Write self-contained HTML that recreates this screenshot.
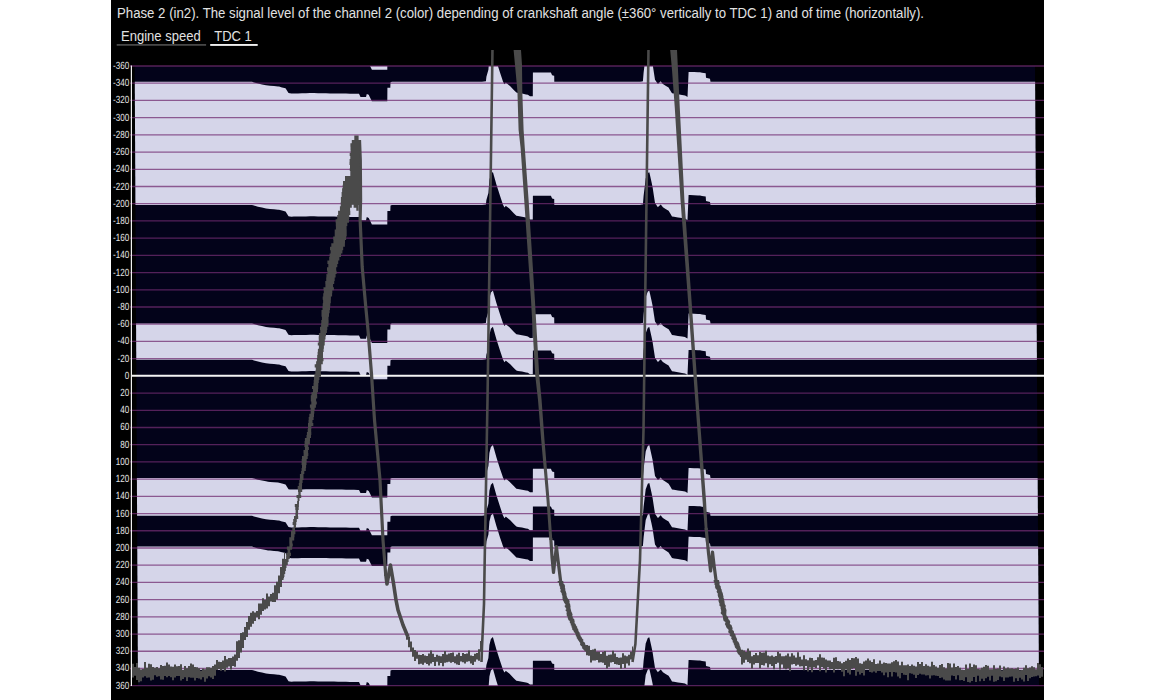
<!DOCTYPE html>
<html><head><meta charset="utf-8"><style>
html,body{margin:0;padding:0;background:#fff;}
body{width:1156px;height:700px;position:relative;overflow:hidden;font-family:"Liberation Sans",sans-serif;}
svg{position:absolute;left:0;top:0;}
</style></head><body>
<svg width="1156" height="700" viewBox="0 0 1156 700">
<defs>
<clipPath id="cp"><polygon points="134.7,66 1035,66 1039,686 138,686"/></clipPath>
<clipPath id="cc"><rect x="111" y="50" width="933" height="650"/></clipPath>
</defs>
<rect x="111" y="0" width="933" height="700" fill="#000"/>
<text x="117" y="18.3" fill="#e2e2e2" font-family="Liberation Sans" font-size="13.8" textLength="807" lengthAdjust="spacingAndGlyphs">Phase 2 (in2). The signal level of the channel 2 (color) depending of crankshaft angle (±360° vertically to TDC 1) and of time (horizontally).</text>
<text x="121" y="40.6" fill="#e2e2e2" font-family="Liberation Sans" font-size="13.8" textLength="79.7" lengthAdjust="spacingAndGlyphs">Engine speed</text>
<text x="214.3" y="40.6" fill="#e2e2e2" font-family="Liberation Sans" font-size="13.8" textLength="37.5" lengthAdjust="spacingAndGlyphs">TDC 1</text>
<rect x="116.7" y="44" width="89.4" height="1.8" fill="#474747"/>
<rect x="210.2" y="44" width="47.5" height="1.9" fill="#f0f0f0"/>
<g clip-path="url(#cp)">
<rect x="130" y="66" width="914" height="620" fill="#03031a"/>
<g fill="#d5d5e9"><path d="M130.0 81.8 L134.0 81.8 L138.0 81.8 L142.0 81.8 L146.0 81.8 L150.0 81.8 L154.0 81.8 L158.0 81.8 L162.0 81.8 L166.0 81.8 L170.0 81.8 L174.0 81.8 L178.0 81.8 L182.0 81.8 L186.0 81.8 L190.0 81.8 L194.0 81.8 L198.0 81.8 L202.0 81.8 L206.0 81.8 L210.0 81.8 L214.0 81.8 L218.0 81.8 L222.0 81.8 L226.0 81.8 L230.0 81.8 L234.0 81.8 L238.0 81.8 L242.0 81.8 L246.0 81.8 L250.0 81.8 L252.0 81.8 L254.0 82.4 L258.0 83.6 L262.0 84.4 L266.0 85.2 L268.0 85.6 L270.0 85.8 L274.0 86.1 L278.0 86.5 L279.0 86.6 L282.0 87.4 L285.5 88.3 L286.0 89.1 L288.5 93.1 L289.8 93.3 L290.0 93.3 L291.2 93.5 L294.0 93.4 L298.0 93.4 L302.0 93.3 L306.0 93.2 L310.0 93.1 L312.0 93.1 L314.0 93.1 L318.0 93.2 L322.0 93.2 L326.0 93.3 L330.0 93.4 L334.0 93.4 L338.0 93.5 L342.0 93.5 L346.0 93.6 L350.0 93.7 L354.0 93.7 L358.0 93.8 L359.0 93.8 L360.5 97.0 L362.0 97.0 L366.0 97.0 L366.8 93.9 L368.7 94.8 L370.0 97.4 L371.9 101.3 L374.0 101.3 L378.0 101.3 L382.0 101.3 L386.0 101.3 L387.3 101.3 L387.4 87.8 L390.0 87.8 L390.3 87.8 L390.5 82.3 L392.0 81.8 L394.0 81.8 L398.0 81.8 L402.0 81.8 L406.0 81.8 L410.0 81.8 L414.0 81.8 L418.0 81.8 L422.0 81.8 L426.0 81.8 L430.0 81.8 L434.0 81.8 L438.0 81.8 L442.0 81.8 L446.0 81.8 L450.0 81.8 L454.0 81.8 L458.0 81.8 L462.0 81.8 L466.0 81.8 L470.0 81.8 L474.0 81.8 L478.0 81.8 L481.9 81.8 L482.0 81.8 L485.9 81.3 L486.0 80.4 L486.4 76.8 L488.4 69.8 L489.4 56.8 L490.0 54.4 L490.9 50.8 L492.9 48.8 L494.0 52.7 L496.4 61.2 L498.0 66.3 L500.0 72.6 L502.0 78.5 L502.9 81.2 L504.4 84.3 L505.9 82.6 L506.0 82.7 L509.3 85.4 L510.0 86.1 L514.0 90.2 L516.4 92.6 L518.0 92.9 L522.0 93.6 L526.0 94.4 L527.9 94.7 L530.0 96.2 L532.8 96.2 L532.9 72.6 L534.0 72.6 L538.0 72.6 L542.0 72.6 L546.0 72.6 L550.0 72.6 L550.9 72.6 L552.1 75.3 L554.0 75.8 L554.2 75.8 L554.3 81.8 L558.0 81.8 L562.0 81.8 L566.0 81.8 L570.0 81.8 L574.0 81.8 L578.0 81.8 L582.0 81.8 L586.0 81.8 L590.0 81.8 L594.0 81.8 L598.0 81.8 L602.0 81.8 L606.0 81.8 L610.0 81.8 L614.0 81.8 L618.0 81.8 L622.0 81.8 L626.0 81.8 L630.0 81.8 L634.0 81.8 L638.0 81.8 L640.0 81.8 L642.0 81.4 L642.9 81.2 L643.6 72.8 L645.7 55.3 L646.0 54.5 L647.8 49.8 L649.3 49.0 L650.0 52.1 L651.4 58.3 L652.6 64.0 L654.0 73.2 L655.0 79.8 L657.9 84.0 L658.0 83.9 L660.7 81.3 L662.0 82.9 L662.9 84.0 L666.0 86.0 L668.6 87.6 L670.0 89.9 L672.0 93.3 L674.0 93.6 L678.0 94.3 L682.0 94.9 L685.0 95.4 L686.0 96.0 L687.5 96.9 L688.6 71.9 L690.0 71.9 L694.0 72.1 L698.0 72.2 L700.0 72.3 L702.0 72.7 L705.7 73.3 L706.0 77.8 L710.0 78.8 L710.5 81.8 L714.0 81.8 L718.0 81.8 L722.0 81.8 L726.0 81.8 L730.0 81.8 L734.0 81.8 L738.0 81.8 L742.0 81.8 L746.0 81.8 L750.0 81.8 L754.0 81.8 L758.0 81.8 L762.0 81.8 L766.0 81.8 L770.0 81.8 L774.0 81.8 L778.0 81.8 L782.0 81.8 L786.0 81.8 L790.0 81.8 L794.0 81.8 L798.0 81.8 L802.0 81.8 L806.0 81.8 L810.0 81.8 L814.0 81.8 L818.0 81.8 L822.0 81.8 L826.0 81.8 L830.0 81.8 L834.0 81.8 L838.0 81.8 L842.0 81.8 L846.0 81.8 L850.0 81.8 L854.0 81.8 L858.0 81.8 L862.0 81.8 L866.0 81.8 L870.0 81.8 L874.0 81.8 L878.0 81.8 L882.0 81.8 L886.0 81.8 L890.0 81.8 L894.0 81.8 L898.0 81.8 L902.0 81.8 L906.0 81.8 L910.0 81.8 L914.0 81.8 L918.0 81.8 L922.0 81.8 L926.0 81.8 L930.0 81.8 L934.0 81.8 L938.0 81.8 L942.0 81.8 L946.0 81.8 L950.0 81.8 L954.0 81.8 L958.0 81.8 L962.0 81.8 L966.0 81.8 L970.0 81.8 L974.0 81.8 L978.0 81.8 L982.0 81.8 L986.0 81.8 L990.0 81.8 L994.0 81.8 L998.0 81.8 L1002.0 81.8 L1006.0 81.8 L1010.0 81.8 L1014.0 81.8 L1018.0 81.8 L1022.0 81.8 L1026.0 81.8 L1030.0 81.8 L1034.0 81.8 L1038.0 81.8 L1042.0 81.8 L1045.0 81.8 L1045.0 205.0 L1042.0 205.0 L1038.0 205.0 L1034.0 205.0 L1030.0 205.0 L1026.0 205.0 L1022.0 205.0 L1018.0 205.0 L1014.0 205.0 L1010.0 205.0 L1006.0 205.0 L1002.0 205.0 L998.0 205.0 L994.0 205.0 L990.0 205.0 L986.0 205.0 L982.0 205.0 L978.0 205.0 L974.0 205.0 L970.0 205.0 L966.0 205.0 L962.0 205.0 L958.0 205.0 L954.0 205.0 L950.0 205.0 L946.0 205.0 L942.0 205.0 L938.0 205.0 L934.0 205.0 L930.0 205.0 L926.0 205.0 L922.0 205.0 L918.0 205.0 L914.0 205.0 L910.0 205.0 L906.0 205.0 L902.0 205.0 L898.0 205.0 L894.0 205.0 L890.0 205.0 L886.0 205.0 L882.0 205.0 L878.0 205.0 L874.0 205.0 L870.0 205.0 L866.0 205.0 L862.0 205.0 L858.0 205.0 L854.0 205.0 L850.0 205.0 L846.0 205.0 L842.0 205.0 L838.0 205.0 L834.0 205.0 L830.0 205.0 L826.0 205.0 L822.0 205.0 L818.0 205.0 L814.0 205.0 L810.0 205.0 L806.0 205.0 L802.0 205.0 L798.0 205.0 L794.0 205.0 L790.0 205.0 L786.0 205.0 L782.0 205.0 L778.0 205.0 L774.0 205.0 L770.0 205.0 L766.0 205.0 L762.0 205.0 L758.0 205.0 L754.0 205.0 L750.0 205.0 L746.0 205.0 L742.0 205.0 L738.0 205.0 L734.0 205.0 L730.0 205.0 L726.0 205.0 L722.0 205.0 L718.0 205.0 L714.0 205.0 L710.5 205.0 L710.0 202.0 L706.0 201.0 L705.7 196.5 L702.0 195.9 L700.0 195.5 L698.0 195.4 L694.0 195.3 L690.0 195.1 L688.6 195.1 L687.5 220.1 L686.0 219.2 L685.0 218.6 L682.0 218.1 L678.0 217.5 L674.0 216.8 L672.0 216.5 L670.0 213.1 L668.6 210.8 L666.0 209.2 L662.9 207.2 L662.0 206.1 L660.7 204.5 L658.0 207.1 L657.9 207.2 L655.0 203.0 L654.0 196.4 L652.6 187.2 L651.4 181.5 L650.0 175.3 L649.3 172.2 L647.8 173.0 L646.0 177.7 L645.7 178.5 L643.6 196.0 L642.9 204.4 L642.0 204.6 L640.0 205.0 L638.0 205.0 L634.0 205.0 L630.0 205.0 L626.0 205.0 L622.0 205.0 L618.0 205.0 L614.0 205.0 L610.0 205.0 L606.0 205.0 L602.0 205.0 L598.0 205.0 L594.0 205.0 L590.0 205.0 L586.0 205.0 L582.0 205.0 L578.0 205.0 L574.0 205.0 L570.0 205.0 L566.0 205.0 L562.0 205.0 L558.0 205.0 L554.3 205.0 L554.2 199.0 L554.0 199.0 L552.1 198.5 L550.9 195.8 L550.0 195.8 L546.0 195.8 L542.0 195.8 L538.0 195.8 L534.0 195.8 L532.9 195.8 L532.8 219.4 L530.0 219.4 L527.9 217.9 L526.0 217.6 L522.0 216.8 L518.0 216.1 L516.4 215.8 L514.0 213.4 L510.0 209.3 L509.3 208.6 L506.0 205.9 L505.9 205.8 L504.4 207.5 L502.9 204.4 L502.0 201.7 L500.0 195.8 L498.0 189.5 L496.4 184.4 L494.0 175.9 L492.9 172.0 L490.9 174.0 L490.0 177.6 L489.4 180.0 L488.4 193.0 L486.4 200.0 L486.0 203.6 L485.9 204.5 L482.0 205.0 L481.9 205.0 L478.0 205.0 L474.0 205.0 L470.0 205.0 L466.0 205.0 L462.0 205.0 L458.0 205.0 L454.0 205.0 L450.0 205.0 L446.0 205.0 L442.0 205.0 L438.0 205.0 L434.0 205.0 L430.0 205.0 L426.0 205.0 L422.0 205.0 L418.0 205.0 L414.0 205.0 L410.0 205.0 L406.0 205.0 L402.0 205.0 L398.0 205.0 L394.0 205.0 L392.0 205.0 L390.5 205.5 L390.3 211.0 L390.0 211.0 L387.4 211.0 L387.3 224.5 L386.0 224.5 L382.0 224.5 L378.0 224.5 L374.0 224.5 L371.9 224.5 L370.0 220.6 L368.7 218.0 L366.8 217.1 L366.0 220.2 L362.0 220.2 L360.5 220.2 L359.0 217.0 L358.0 217.0 L354.0 216.9 L350.0 216.9 L346.0 216.8 L342.0 216.7 L338.0 216.7 L334.0 216.6 L330.0 216.6 L326.0 216.5 L322.0 216.4 L318.0 216.4 L314.0 216.3 L312.0 216.3 L310.0 216.3 L306.0 216.4 L302.0 216.5 L298.0 216.6 L294.0 216.6 L291.2 216.7 L290.0 216.5 L289.8 216.5 L288.5 216.3 L286.0 212.3 L285.5 211.5 L282.0 210.6 L279.0 209.8 L278.0 209.7 L274.0 209.3 L270.0 209.0 L268.0 208.8 L266.0 208.4 L262.0 207.6 L258.0 206.8 L254.0 205.6 L252.0 205.0 L250.0 205.0 L246.0 205.0 L242.0 205.0 L238.0 205.0 L234.0 205.0 L230.0 205.0 L226.0 205.0 L222.0 205.0 L218.0 205.0 L214.0 205.0 L210.0 205.0 L206.0 205.0 L202.0 205.0 L198.0 205.0 L194.0 205.0 L190.0 205.0 L186.0 205.0 L182.0 205.0 L178.0 205.0 L174.0 205.0 L170.0 205.0 L166.0 205.0 L162.0 205.0 L158.0 205.0 L154.0 205.0 L150.0 205.0 L146.0 205.0 L142.0 205.0 L138.0 205.0 L134.0 205.0 L130.0 205.0Z"/><path d="M130.0 323.5 L134.0 323.5 L138.0 323.5 L142.0 323.5 L146.0 323.5 L150.0 323.5 L154.0 323.5 L158.0 323.5 L162.0 323.5 L166.0 323.5 L170.0 323.5 L174.0 323.5 L178.0 323.5 L182.0 323.5 L186.0 323.5 L190.0 323.5 L194.0 323.5 L198.0 323.5 L202.0 323.5 L206.0 323.5 L210.0 323.5 L214.0 323.5 L218.0 323.5 L222.0 323.5 L226.0 323.5 L230.0 323.5 L234.0 323.5 L238.0 323.5 L242.0 323.5 L246.0 323.5 L250.0 323.5 L252.0 323.5 L254.0 324.1 L258.0 325.3 L262.0 326.1 L266.0 326.9 L268.0 327.3 L270.0 327.5 L274.0 327.8 L278.0 328.2 L279.0 328.3 L282.0 329.1 L285.5 330.0 L286.0 330.8 L288.5 334.8 L289.8 335.0 L290.0 335.0 L291.2 335.2 L294.0 335.1 L298.0 335.1 L302.0 335.0 L306.0 334.9 L310.0 334.8 L312.0 334.8 L314.0 334.8 L318.0 334.9 L322.0 334.9 L326.0 335.0 L330.0 335.1 L334.0 335.1 L338.0 335.2 L342.0 335.2 L346.0 335.3 L350.0 335.4 L354.0 335.4 L358.0 335.5 L359.0 335.5 L360.5 338.7 L362.0 338.7 L366.0 338.7 L366.8 335.6 L368.7 336.5 L370.0 339.1 L371.9 343.0 L374.0 343.0 L378.0 343.0 L382.0 343.0 L386.0 343.0 L387.3 343.0 L387.4 329.5 L390.0 329.5 L390.3 329.5 L390.5 324.0 L392.0 323.5 L394.0 323.5 L398.0 323.5 L402.0 323.5 L406.0 323.5 L410.0 323.5 L414.0 323.5 L418.0 323.5 L422.0 323.5 L426.0 323.5 L430.0 323.5 L434.0 323.5 L438.0 323.5 L442.0 323.5 L446.0 323.5 L450.0 323.5 L454.0 323.5 L458.0 323.5 L462.0 323.5 L466.0 323.5 L470.0 323.5 L474.0 323.5 L478.0 323.5 L481.9 323.5 L482.0 323.5 L485.9 323.0 L486.0 322.1 L486.4 318.5 L488.4 311.5 L489.4 298.5 L490.0 296.1 L490.9 292.5 L492.9 290.5 L494.0 294.4 L496.4 302.9 L498.0 308.0 L500.0 314.3 L502.0 320.2 L502.9 322.9 L504.4 326.0 L505.9 324.3 L506.0 324.4 L509.3 327.1 L510.0 327.8 L514.0 331.9 L516.4 334.3 L518.0 334.6 L522.0 335.3 L526.0 336.1 L527.9 336.4 L530.0 337.9 L532.8 337.9 L532.9 314.3 L534.0 314.3 L538.0 314.3 L542.0 314.3 L546.0 314.3 L550.0 314.3 L550.9 314.3 L552.1 317.0 L554.0 317.5 L554.2 317.5 L554.3 323.5 L558.0 323.5 L562.0 323.5 L566.0 323.5 L570.0 323.5 L574.0 323.5 L578.0 323.5 L582.0 323.5 L586.0 323.5 L590.0 323.5 L594.0 323.5 L598.0 323.5 L602.0 323.5 L606.0 323.5 L610.0 323.5 L614.0 323.5 L618.0 323.5 L622.0 323.5 L626.0 323.5 L630.0 323.5 L634.0 323.5 L638.0 323.5 L640.0 323.5 L642.0 323.1 L642.9 322.9 L643.6 314.5 L645.7 297.0 L646.0 296.2 L647.8 291.5 L649.3 290.7 L650.0 293.8 L651.4 300.0 L652.6 305.7 L654.0 314.9 L655.0 321.5 L657.9 325.7 L658.0 325.6 L660.7 323.0 L662.0 324.6 L662.9 325.7 L666.0 327.7 L668.6 329.3 L670.0 331.6 L672.0 335.0 L674.0 335.3 L678.0 336.0 L682.0 336.6 L685.0 337.1 L686.0 337.7 L687.5 338.6 L688.6 313.6 L690.0 313.6 L694.0 313.8 L698.0 313.9 L700.0 314.0 L702.0 314.4 L705.7 315.0 L706.0 319.5 L710.0 320.5 L710.5 323.5 L714.0 323.5 L718.0 323.5 L722.0 323.5 L726.0 323.5 L730.0 323.5 L734.0 323.5 L738.0 323.5 L742.0 323.5 L746.0 323.5 L750.0 323.5 L754.0 323.5 L758.0 323.5 L762.0 323.5 L766.0 323.5 L770.0 323.5 L774.0 323.5 L778.0 323.5 L782.0 323.5 L786.0 323.5 L790.0 323.5 L794.0 323.5 L798.0 323.5 L802.0 323.5 L806.0 323.5 L810.0 323.5 L814.0 323.5 L818.0 323.5 L822.0 323.5 L826.0 323.5 L830.0 323.5 L834.0 323.5 L838.0 323.5 L842.0 323.5 L846.0 323.5 L850.0 323.5 L854.0 323.5 L858.0 323.5 L862.0 323.5 L866.0 323.5 L870.0 323.5 L874.0 323.5 L878.0 323.5 L882.0 323.5 L886.0 323.5 L890.0 323.5 L894.0 323.5 L898.0 323.5 L902.0 323.5 L906.0 323.5 L910.0 323.5 L914.0 323.5 L918.0 323.5 L922.0 323.5 L926.0 323.5 L930.0 323.5 L934.0 323.5 L938.0 323.5 L942.0 323.5 L946.0 323.5 L950.0 323.5 L954.0 323.5 L958.0 323.5 L962.0 323.5 L966.0 323.5 L970.0 323.5 L974.0 323.5 L978.0 323.5 L982.0 323.5 L986.0 323.5 L990.0 323.5 L994.0 323.5 L998.0 323.5 L1002.0 323.5 L1006.0 323.5 L1010.0 323.5 L1014.0 323.5 L1018.0 323.5 L1022.0 323.5 L1026.0 323.5 L1030.0 323.5 L1034.0 323.5 L1038.0 323.5 L1042.0 323.5 L1045.0 323.5 L1045.0 359.8 L1042.0 359.8 L1038.0 359.8 L1034.0 359.8 L1030.0 359.8 L1026.0 359.8 L1022.0 359.8 L1018.0 359.8 L1014.0 359.8 L1010.0 359.8 L1006.0 359.8 L1002.0 359.8 L998.0 359.8 L994.0 359.8 L990.0 359.8 L986.0 359.8 L982.0 359.8 L978.0 359.8 L974.0 359.8 L970.0 359.8 L966.0 359.8 L962.0 359.8 L958.0 359.8 L954.0 359.8 L950.0 359.8 L946.0 359.8 L942.0 359.8 L938.0 359.8 L934.0 359.8 L930.0 359.8 L926.0 359.8 L922.0 359.8 L918.0 359.8 L914.0 359.8 L910.0 359.8 L906.0 359.8 L902.0 359.8 L898.0 359.8 L894.0 359.8 L890.0 359.8 L886.0 359.8 L882.0 359.8 L878.0 359.8 L874.0 359.8 L870.0 359.8 L866.0 359.8 L862.0 359.8 L858.0 359.8 L854.0 359.8 L850.0 359.8 L846.0 359.8 L842.0 359.8 L838.0 359.8 L834.0 359.8 L830.0 359.8 L826.0 359.8 L822.0 359.8 L818.0 359.8 L814.0 359.8 L810.0 359.8 L806.0 359.8 L802.0 359.8 L798.0 359.8 L794.0 359.8 L790.0 359.8 L786.0 359.8 L782.0 359.8 L778.0 359.8 L774.0 359.8 L770.0 359.8 L766.0 359.8 L762.0 359.8 L758.0 359.8 L754.0 359.8 L750.0 359.8 L746.0 359.8 L742.0 359.8 L738.0 359.8 L734.0 359.8 L730.0 359.8 L726.0 359.8 L722.0 359.8 L718.0 359.8 L714.0 359.8 L710.5 359.8 L710.0 356.8 L706.0 355.8 L705.7 351.3 L702.0 350.7 L700.0 350.3 L698.0 350.2 L694.0 350.1 L690.0 349.9 L688.6 349.9 L687.5 374.9 L686.0 374.0 L685.0 373.4 L682.0 372.9 L678.0 372.3 L674.0 371.6 L672.0 371.3 L670.0 367.9 L668.6 365.6 L666.0 364.0 L662.9 362.0 L662.0 360.9 L660.7 359.3 L658.0 361.9 L657.9 362.0 L655.0 357.8 L654.0 351.2 L652.6 342.0 L651.4 336.3 L650.0 330.1 L649.3 327.0 L647.8 327.8 L646.0 332.5 L645.7 333.3 L643.6 350.8 L642.9 359.2 L642.0 359.4 L640.0 359.8 L638.0 359.8 L634.0 359.8 L630.0 359.8 L626.0 359.8 L622.0 359.8 L618.0 359.8 L614.0 359.8 L610.0 359.8 L606.0 359.8 L602.0 359.8 L598.0 359.8 L594.0 359.8 L590.0 359.8 L586.0 359.8 L582.0 359.8 L578.0 359.8 L574.0 359.8 L570.0 359.8 L566.0 359.8 L562.0 359.8 L558.0 359.8 L554.3 359.8 L554.2 353.8 L554.0 353.8 L552.1 353.3 L550.9 350.6 L550.0 350.6 L546.0 350.6 L542.0 350.6 L538.0 350.6 L534.0 350.6 L532.9 350.6 L532.8 374.2 L530.0 374.2 L527.9 372.7 L526.0 372.4 L522.0 371.6 L518.0 370.9 L516.4 370.6 L514.0 368.2 L510.0 364.1 L509.3 363.4 L506.0 360.7 L505.9 360.6 L504.4 362.3 L502.9 359.2 L502.0 356.5 L500.0 350.6 L498.0 344.3 L496.4 339.2 L494.0 330.7 L492.9 326.8 L490.9 328.8 L490.0 332.4 L489.4 334.8 L488.4 347.8 L486.4 354.8 L486.0 358.4 L485.9 359.3 L482.0 359.8 L481.9 359.8 L478.0 359.8 L474.0 359.8 L470.0 359.8 L466.0 359.8 L462.0 359.8 L458.0 359.8 L454.0 359.8 L450.0 359.8 L446.0 359.8 L442.0 359.8 L438.0 359.8 L434.0 359.8 L430.0 359.8 L426.0 359.8 L422.0 359.8 L418.0 359.8 L414.0 359.8 L410.0 359.8 L406.0 359.8 L402.0 359.8 L398.0 359.8 L394.0 359.8 L392.0 359.8 L390.5 360.3 L390.3 365.8 L390.0 365.8 L387.4 365.8 L387.3 379.3 L386.0 379.3 L382.0 379.3 L378.0 379.3 L374.0 379.3 L371.9 379.3 L370.0 375.4 L368.7 372.8 L366.8 371.9 L366.0 375.0 L362.0 375.0 L360.5 375.0 L359.0 371.8 L358.0 371.8 L354.0 371.7 L350.0 371.7 L346.0 371.6 L342.0 371.5 L338.0 371.5 L334.0 371.4 L330.0 371.4 L326.0 371.3 L322.0 371.2 L318.0 371.2 L314.0 371.1 L312.0 371.1 L310.0 371.1 L306.0 371.2 L302.0 371.3 L298.0 371.4 L294.0 371.4 L291.2 371.5 L290.0 371.3 L289.8 371.3 L288.5 371.1 L286.0 367.1 L285.5 366.3 L282.0 365.4 L279.0 364.6 L278.0 364.5 L274.0 364.1 L270.0 363.8 L268.0 363.6 L266.0 363.2 L262.0 362.4 L258.0 361.6 L254.0 360.4 L252.0 359.8 L250.0 359.8 L246.0 359.8 L242.0 359.8 L238.0 359.8 L234.0 359.8 L230.0 359.8 L226.0 359.8 L222.0 359.8 L218.0 359.8 L214.0 359.8 L210.0 359.8 L206.0 359.8 L202.0 359.8 L198.0 359.8 L194.0 359.8 L190.0 359.8 L186.0 359.8 L182.0 359.8 L178.0 359.8 L174.0 359.8 L170.0 359.8 L166.0 359.8 L162.0 359.8 L158.0 359.8 L154.0 359.8 L150.0 359.8 L146.0 359.8 L142.0 359.8 L138.0 359.8 L134.0 359.8 L130.0 359.8Z"/><path d="M130.0 477.9 L134.0 477.9 L138.0 477.9 L142.0 477.9 L146.0 477.9 L150.0 477.9 L154.0 477.9 L158.0 477.9 L162.0 477.9 L166.0 477.9 L170.0 477.9 L174.0 477.9 L178.0 477.9 L182.0 477.9 L186.0 477.9 L190.0 477.9 L194.0 477.9 L198.0 477.9 L202.0 477.9 L206.0 477.9 L210.0 477.9 L214.0 477.9 L218.0 477.9 L222.0 477.9 L226.0 477.9 L230.0 477.9 L234.0 477.9 L238.0 477.9 L242.0 477.9 L246.0 477.9 L250.0 477.9 L252.0 477.9 L254.0 478.5 L258.0 479.7 L262.0 480.5 L266.0 481.3 L268.0 481.7 L270.0 481.9 L274.0 482.2 L278.0 482.6 L279.0 482.7 L282.0 483.5 L285.5 484.4 L286.0 485.2 L288.5 489.2 L289.8 489.4 L290.0 489.4 L291.2 489.6 L294.0 489.5 L298.0 489.5 L302.0 489.4 L306.0 489.3 L310.0 489.2 L312.0 489.2 L314.0 489.2 L318.0 489.3 L322.0 489.3 L326.0 489.4 L330.0 489.5 L334.0 489.5 L338.0 489.6 L342.0 489.6 L346.0 489.7 L350.0 489.8 L354.0 489.8 L358.0 489.9 L359.0 489.9 L360.5 493.1 L362.0 493.1 L366.0 493.1 L366.8 490.0 L368.7 490.9 L370.0 493.5 L371.9 497.4 L374.0 497.4 L378.0 497.4 L382.0 497.4 L386.0 497.4 L387.3 497.4 L387.4 483.9 L390.0 483.9 L390.3 483.9 L390.5 478.4 L392.0 477.9 L394.0 477.9 L398.0 477.9 L402.0 477.9 L406.0 477.9 L410.0 477.9 L414.0 477.9 L418.0 477.9 L422.0 477.9 L426.0 477.9 L430.0 477.9 L434.0 477.9 L438.0 477.9 L442.0 477.9 L446.0 477.9 L450.0 477.9 L454.0 477.9 L458.0 477.9 L462.0 477.9 L466.0 477.9 L470.0 477.9 L474.0 477.9 L478.0 477.9 L481.9 477.9 L482.0 477.9 L485.9 477.4 L486.0 476.5 L486.4 472.9 L488.4 465.9 L489.4 452.9 L490.0 450.5 L490.9 446.9 L492.9 444.9 L494.0 448.8 L496.4 457.3 L498.0 462.4 L500.0 468.7 L502.0 474.6 L502.9 477.3 L504.4 480.4 L505.9 478.7 L506.0 478.8 L509.3 481.5 L510.0 482.2 L514.0 486.3 L516.4 488.7 L518.0 489.0 L522.0 489.7 L526.0 490.5 L527.9 490.8 L530.0 492.3 L532.8 492.3 L532.9 468.7 L534.0 468.7 L538.0 468.7 L542.0 468.7 L546.0 468.7 L550.0 468.7 L550.9 468.7 L552.1 471.4 L554.0 471.9 L554.2 471.9 L554.3 477.9 L558.0 477.9 L562.0 477.9 L566.0 477.9 L570.0 477.9 L574.0 477.9 L578.0 477.9 L582.0 477.9 L586.0 477.9 L590.0 477.9 L594.0 477.9 L598.0 477.9 L602.0 477.9 L606.0 477.9 L610.0 477.9 L614.0 477.9 L618.0 477.9 L622.0 477.9 L626.0 477.9 L630.0 477.9 L634.0 477.9 L638.0 477.9 L640.0 477.9 L642.0 477.5 L642.9 477.3 L643.6 468.9 L645.7 451.4 L646.0 450.6 L647.8 445.9 L649.3 445.1 L650.0 448.2 L651.4 454.4 L652.6 460.1 L654.0 469.3 L655.0 475.9 L657.9 480.1 L658.0 480.0 L660.7 477.4 L662.0 479.0 L662.9 480.1 L666.0 482.1 L668.6 483.7 L670.0 486.0 L672.0 489.4 L674.0 489.7 L678.0 490.4 L682.0 491.0 L685.0 491.5 L686.0 492.1 L687.5 493.0 L688.6 468.0 L690.0 468.0 L694.0 468.2 L698.0 468.3 L700.0 468.4 L702.0 468.8 L705.7 469.4 L706.0 473.9 L710.0 474.9 L710.5 477.9 L714.0 477.9 L718.0 477.9 L722.0 477.9 L726.0 477.9 L730.0 477.9 L734.0 477.9 L738.0 477.9 L742.0 477.9 L746.0 477.9 L750.0 477.9 L754.0 477.9 L758.0 477.9 L762.0 477.9 L766.0 477.9 L770.0 477.9 L774.0 477.9 L778.0 477.9 L782.0 477.9 L786.0 477.9 L790.0 477.9 L794.0 477.9 L798.0 477.9 L802.0 477.9 L806.0 477.9 L810.0 477.9 L814.0 477.9 L818.0 477.9 L822.0 477.9 L826.0 477.9 L830.0 477.9 L834.0 477.9 L838.0 477.9 L842.0 477.9 L846.0 477.9 L850.0 477.9 L854.0 477.9 L858.0 477.9 L862.0 477.9 L866.0 477.9 L870.0 477.9 L874.0 477.9 L878.0 477.9 L882.0 477.9 L886.0 477.9 L890.0 477.9 L894.0 477.9 L898.0 477.9 L902.0 477.9 L906.0 477.9 L910.0 477.9 L914.0 477.9 L918.0 477.9 L922.0 477.9 L926.0 477.9 L930.0 477.9 L934.0 477.9 L938.0 477.9 L942.0 477.9 L946.0 477.9 L950.0 477.9 L954.0 477.9 L958.0 477.9 L962.0 477.9 L966.0 477.9 L970.0 477.9 L974.0 477.9 L978.0 477.9 L982.0 477.9 L986.0 477.9 L990.0 477.9 L994.0 477.9 L998.0 477.9 L1002.0 477.9 L1006.0 477.9 L1010.0 477.9 L1014.0 477.9 L1018.0 477.9 L1022.0 477.9 L1026.0 477.9 L1030.0 477.9 L1034.0 477.9 L1038.0 477.9 L1042.0 477.9 L1045.0 477.9 L1045.0 515.8 L1042.0 515.8 L1038.0 515.8 L1034.0 515.8 L1030.0 515.8 L1026.0 515.8 L1022.0 515.8 L1018.0 515.8 L1014.0 515.8 L1010.0 515.8 L1006.0 515.8 L1002.0 515.8 L998.0 515.8 L994.0 515.8 L990.0 515.8 L986.0 515.8 L982.0 515.8 L978.0 515.8 L974.0 515.8 L970.0 515.8 L966.0 515.8 L962.0 515.8 L958.0 515.8 L954.0 515.8 L950.0 515.8 L946.0 515.8 L942.0 515.8 L938.0 515.8 L934.0 515.8 L930.0 515.8 L926.0 515.8 L922.0 515.8 L918.0 515.8 L914.0 515.8 L910.0 515.8 L906.0 515.8 L902.0 515.8 L898.0 515.8 L894.0 515.8 L890.0 515.8 L886.0 515.8 L882.0 515.8 L878.0 515.8 L874.0 515.8 L870.0 515.8 L866.0 515.8 L862.0 515.8 L858.0 515.8 L854.0 515.8 L850.0 515.8 L846.0 515.8 L842.0 515.8 L838.0 515.8 L834.0 515.8 L830.0 515.8 L826.0 515.8 L822.0 515.8 L818.0 515.8 L814.0 515.8 L810.0 515.8 L806.0 515.8 L802.0 515.8 L798.0 515.8 L794.0 515.8 L790.0 515.8 L786.0 515.8 L782.0 515.8 L778.0 515.8 L774.0 515.8 L770.0 515.8 L766.0 515.8 L762.0 515.8 L758.0 515.8 L754.0 515.8 L750.0 515.8 L746.0 515.8 L742.0 515.8 L738.0 515.8 L734.0 515.8 L730.0 515.8 L726.0 515.8 L722.0 515.8 L718.0 515.8 L714.0 515.8 L710.5 515.8 L710.0 512.8 L706.0 511.8 L705.7 507.3 L702.0 506.7 L700.0 506.3 L698.0 506.2 L694.0 506.1 L690.0 505.9 L688.6 505.9 L687.5 530.9 L686.0 530.0 L685.0 529.4 L682.0 528.9 L678.0 528.3 L674.0 527.6 L672.0 527.3 L670.0 523.9 L668.6 521.6 L666.0 520.0 L662.9 518.0 L662.0 516.9 L660.7 515.3 L658.0 517.9 L657.9 518.0 L655.0 513.8 L654.0 507.2 L652.6 498.0 L651.4 492.3 L650.0 486.1 L649.3 483.0 L647.8 483.8 L646.0 488.5 L645.7 489.3 L643.6 506.8 L642.9 515.2 L642.0 515.4 L640.0 515.8 L638.0 515.8 L634.0 515.8 L630.0 515.8 L626.0 515.8 L622.0 515.8 L618.0 515.8 L614.0 515.8 L610.0 515.8 L606.0 515.8 L602.0 515.8 L598.0 515.8 L594.0 515.8 L590.0 515.8 L586.0 515.8 L582.0 515.8 L578.0 515.8 L574.0 515.8 L570.0 515.8 L566.0 515.8 L562.0 515.8 L558.0 515.8 L554.3 515.8 L554.2 509.8 L554.0 509.8 L552.1 509.3 L550.9 506.6 L550.0 506.6 L546.0 506.6 L542.0 506.6 L538.0 506.6 L534.0 506.6 L532.9 506.6 L532.8 530.2 L530.0 530.2 L527.9 528.7 L526.0 528.4 L522.0 527.6 L518.0 526.9 L516.4 526.6 L514.0 524.2 L510.0 520.1 L509.3 519.4 L506.0 516.7 L505.9 516.6 L504.4 518.3 L502.9 515.2 L502.0 512.5 L500.0 506.6 L498.0 500.3 L496.4 495.2 L494.0 486.7 L492.9 482.8 L490.9 484.8 L490.0 488.4 L489.4 490.8 L488.4 503.8 L486.4 510.8 L486.0 514.4 L485.9 515.3 L482.0 515.8 L481.9 515.8 L478.0 515.8 L474.0 515.8 L470.0 515.8 L466.0 515.8 L462.0 515.8 L458.0 515.8 L454.0 515.8 L450.0 515.8 L446.0 515.8 L442.0 515.8 L438.0 515.8 L434.0 515.8 L430.0 515.8 L426.0 515.8 L422.0 515.8 L418.0 515.8 L414.0 515.8 L410.0 515.8 L406.0 515.8 L402.0 515.8 L398.0 515.8 L394.0 515.8 L392.0 515.8 L390.5 516.3 L390.3 521.8 L390.0 521.8 L387.4 521.8 L387.3 535.3 L386.0 535.3 L382.0 535.3 L378.0 535.3 L374.0 535.3 L371.9 535.3 L370.0 531.4 L368.7 528.8 L366.8 527.9 L366.0 531.0 L362.0 531.0 L360.5 531.0 L359.0 527.8 L358.0 527.8 L354.0 527.7 L350.0 527.7 L346.0 527.6 L342.0 527.5 L338.0 527.5 L334.0 527.4 L330.0 527.4 L326.0 527.3 L322.0 527.2 L318.0 527.2 L314.0 527.1 L312.0 527.1 L310.0 527.1 L306.0 527.2 L302.0 527.3 L298.0 527.4 L294.0 527.4 L291.2 527.5 L290.0 527.3 L289.8 527.3 L288.5 527.1 L286.0 523.1 L285.5 522.3 L282.0 521.4 L279.0 520.6 L278.0 520.5 L274.0 520.1 L270.0 519.8 L268.0 519.6 L266.0 519.2 L262.0 518.4 L258.0 517.6 L254.0 516.4 L252.0 515.8 L250.0 515.8 L246.0 515.8 L242.0 515.8 L238.0 515.8 L234.0 515.8 L230.0 515.8 L226.0 515.8 L222.0 515.8 L218.0 515.8 L214.0 515.8 L210.0 515.8 L206.0 515.8 L202.0 515.8 L198.0 515.8 L194.0 515.8 L190.0 515.8 L186.0 515.8 L182.0 515.8 L178.0 515.8 L174.0 515.8 L170.0 515.8 L166.0 515.8 L162.0 515.8 L158.0 515.8 L154.0 515.8 L150.0 515.8 L146.0 515.8 L142.0 515.8 L138.0 515.8 L134.0 515.8 L130.0 515.8Z"/><path d="M130.0 546.6 L134.0 546.6 L138.0 546.6 L142.0 546.6 L146.0 546.6 L150.0 546.6 L154.0 546.6 L158.0 546.6 L162.0 546.6 L166.0 546.6 L170.0 546.6 L174.0 546.6 L178.0 546.6 L182.0 546.6 L186.0 546.6 L190.0 546.6 L194.0 546.6 L198.0 546.6 L202.0 546.6 L206.0 546.6 L210.0 546.6 L214.0 546.6 L218.0 546.6 L222.0 546.6 L226.0 546.6 L230.0 546.6 L234.0 546.6 L238.0 546.6 L242.0 546.6 L246.0 546.6 L250.0 546.6 L252.0 546.6 L254.0 547.2 L258.0 548.4 L262.0 549.2 L266.0 550.0 L268.0 550.4 L270.0 550.6 L274.0 550.9 L278.0 551.3 L279.0 551.4 L282.0 552.2 L285.5 553.1 L286.0 553.9 L288.5 557.9 L289.8 558.1 L290.0 558.1 L291.2 558.3 L294.0 558.2 L298.0 558.2 L302.0 558.1 L306.0 558.0 L310.0 557.9 L312.0 557.9 L314.0 557.9 L318.0 558.0 L322.0 558.0 L326.0 558.1 L330.0 558.2 L334.0 558.2 L338.0 558.3 L342.0 558.3 L346.0 558.4 L350.0 558.5 L354.0 558.5 L358.0 558.6 L359.0 558.6 L360.5 561.8 L362.0 561.8 L366.0 561.8 L366.8 558.7 L368.7 559.6 L370.0 562.2 L371.9 566.1 L374.0 566.1 L378.0 566.1 L382.0 566.1 L386.0 566.1 L387.3 566.1 L387.4 552.6 L390.0 552.6 L390.3 552.6 L390.5 547.1 L392.0 546.6 L394.0 546.6 L398.0 546.6 L402.0 546.6 L406.0 546.6 L410.0 546.6 L414.0 546.6 L418.0 546.6 L422.0 546.6 L426.0 546.6 L430.0 546.6 L434.0 546.6 L438.0 546.6 L442.0 546.6 L446.0 546.6 L450.0 546.6 L454.0 546.6 L458.0 546.6 L462.0 546.6 L466.0 546.6 L470.0 546.6 L474.0 546.6 L478.0 546.6 L481.9 546.6 L482.0 546.6 L485.9 546.1 L486.0 545.2 L486.4 541.6 L488.4 534.6 L489.4 521.6 L490.0 519.2 L490.9 515.6 L492.9 513.6 L494.0 517.5 L496.4 526.0 L498.0 531.1 L500.0 537.4 L502.0 543.3 L502.9 546.0 L504.4 549.1 L505.9 547.4 L506.0 547.5 L509.3 550.2 L510.0 550.9 L514.0 555.0 L516.4 557.4 L518.0 557.7 L522.0 558.4 L526.0 559.2 L527.9 559.5 L530.0 561.0 L532.8 561.0 L532.9 537.4 L534.0 537.4 L538.0 537.4 L542.0 537.4 L546.0 537.4 L550.0 537.4 L550.9 537.4 L552.1 540.1 L554.0 540.6 L554.2 540.6 L554.3 546.6 L558.0 546.6 L562.0 546.6 L566.0 546.6 L570.0 546.6 L574.0 546.6 L578.0 546.6 L582.0 546.6 L586.0 546.6 L590.0 546.6 L594.0 546.6 L598.0 546.6 L602.0 546.6 L606.0 546.6 L610.0 546.6 L614.0 546.6 L618.0 546.6 L622.0 546.6 L626.0 546.6 L630.0 546.6 L634.0 546.6 L638.0 546.6 L640.0 546.6 L642.0 546.2 L642.9 546.0 L643.6 537.6 L645.7 520.1 L646.0 519.3 L647.8 514.6 L649.3 513.8 L650.0 516.9 L651.4 523.1 L652.6 528.8 L654.0 538.0 L655.0 544.6 L657.9 548.8 L658.0 548.7 L660.7 546.1 L662.0 547.7 L662.9 548.8 L666.0 550.8 L668.6 552.4 L670.0 554.7 L672.0 558.1 L674.0 558.4 L678.0 559.1 L682.0 559.7 L685.0 560.2 L686.0 560.8 L687.5 561.7 L688.6 536.7 L690.0 536.7 L694.0 536.9 L698.0 537.0 L700.0 537.1 L702.0 537.5 L705.7 538.1 L706.0 542.6 L710.0 543.6 L710.5 546.6 L714.0 546.6 L718.0 546.6 L722.0 546.6 L726.0 546.6 L730.0 546.6 L734.0 546.6 L738.0 546.6 L742.0 546.6 L746.0 546.6 L750.0 546.6 L754.0 546.6 L758.0 546.6 L762.0 546.6 L766.0 546.6 L770.0 546.6 L774.0 546.6 L778.0 546.6 L782.0 546.6 L786.0 546.6 L790.0 546.6 L794.0 546.6 L798.0 546.6 L802.0 546.6 L806.0 546.6 L810.0 546.6 L814.0 546.6 L818.0 546.6 L822.0 546.6 L826.0 546.6 L830.0 546.6 L834.0 546.6 L838.0 546.6 L842.0 546.6 L846.0 546.6 L850.0 546.6 L854.0 546.6 L858.0 546.6 L862.0 546.6 L866.0 546.6 L870.0 546.6 L874.0 546.6 L878.0 546.6 L882.0 546.6 L886.0 546.6 L890.0 546.6 L894.0 546.6 L898.0 546.6 L902.0 546.6 L906.0 546.6 L910.0 546.6 L914.0 546.6 L918.0 546.6 L922.0 546.6 L926.0 546.6 L930.0 546.6 L934.0 546.6 L938.0 546.6 L942.0 546.6 L946.0 546.6 L950.0 546.6 L954.0 546.6 L958.0 546.6 L962.0 546.6 L966.0 546.6 L970.0 546.6 L974.0 546.6 L978.0 546.6 L982.0 546.6 L986.0 546.6 L990.0 546.6 L994.0 546.6 L998.0 546.6 L1002.0 546.6 L1006.0 546.6 L1010.0 546.6 L1014.0 546.6 L1018.0 546.6 L1022.0 546.6 L1026.0 546.6 L1030.0 546.6 L1034.0 546.6 L1038.0 546.6 L1042.0 546.6 L1045.0 546.6 L1045.0 670.0 L1042.0 670.0 L1038.0 670.0 L1034.0 670.0 L1030.0 670.0 L1026.0 670.0 L1022.0 670.0 L1018.0 670.0 L1014.0 670.0 L1010.0 670.0 L1006.0 670.0 L1002.0 670.0 L998.0 670.0 L994.0 670.0 L990.0 670.0 L986.0 670.0 L982.0 670.0 L978.0 670.0 L974.0 670.0 L970.0 670.0 L966.0 670.0 L962.0 670.0 L958.0 670.0 L954.0 670.0 L950.0 670.0 L946.0 670.0 L942.0 670.0 L938.0 670.0 L934.0 670.0 L930.0 670.0 L926.0 670.0 L922.0 670.0 L918.0 670.0 L914.0 670.0 L910.0 670.0 L906.0 670.0 L902.0 670.0 L898.0 670.0 L894.0 670.0 L890.0 670.0 L886.0 670.0 L882.0 670.0 L878.0 670.0 L874.0 670.0 L870.0 670.0 L866.0 670.0 L862.0 670.0 L858.0 670.0 L854.0 670.0 L850.0 670.0 L846.0 670.0 L842.0 670.0 L838.0 670.0 L834.0 670.0 L830.0 670.0 L826.0 670.0 L822.0 670.0 L818.0 670.0 L814.0 670.0 L810.0 670.0 L806.0 670.0 L802.0 670.0 L798.0 670.0 L794.0 670.0 L790.0 670.0 L786.0 670.0 L782.0 670.0 L778.0 670.0 L774.0 670.0 L770.0 670.0 L766.0 670.0 L762.0 670.0 L758.0 670.0 L754.0 670.0 L750.0 670.0 L746.0 670.0 L742.0 670.0 L738.0 670.0 L734.0 670.0 L730.0 670.0 L726.0 670.0 L722.0 670.0 L718.0 670.0 L714.0 670.0 L710.5 670.0 L710.0 667.0 L706.0 666.0 L705.7 661.5 L702.0 660.9 L700.0 660.5 L698.0 660.4 L694.0 660.3 L690.0 660.1 L688.6 660.1 L687.5 685.1 L686.0 684.2 L685.0 683.6 L682.0 683.1 L678.0 682.5 L674.0 681.8 L672.0 681.5 L670.0 678.1 L668.6 675.8 L666.0 674.2 L662.9 672.2 L662.0 671.1 L660.7 669.5 L658.0 672.1 L657.9 672.2 L655.0 668.0 L654.0 661.4 L652.6 652.2 L651.4 646.5 L650.0 640.3 L649.3 637.2 L647.8 638.0 L646.0 642.7 L645.7 643.5 L643.6 661.0 L642.9 669.4 L642.0 669.6 L640.0 670.0 L638.0 670.0 L634.0 670.0 L630.0 670.0 L626.0 670.0 L622.0 670.0 L618.0 670.0 L614.0 670.0 L610.0 670.0 L606.0 670.0 L602.0 670.0 L598.0 670.0 L594.0 670.0 L590.0 670.0 L586.0 670.0 L582.0 670.0 L578.0 670.0 L574.0 670.0 L570.0 670.0 L566.0 670.0 L562.0 670.0 L558.0 670.0 L554.3 670.0 L554.2 664.0 L554.0 664.0 L552.1 663.5 L550.9 660.8 L550.0 660.8 L546.0 660.8 L542.0 660.8 L538.0 660.8 L534.0 660.8 L532.9 660.8 L532.8 684.4 L530.0 684.4 L527.9 682.9 L526.0 682.6 L522.0 681.8 L518.0 681.1 L516.4 680.8 L514.0 678.4 L510.0 674.3 L509.3 673.6 L506.0 670.9 L505.9 670.8 L504.4 672.5 L502.9 669.4 L502.0 666.7 L500.0 660.8 L498.0 654.5 L496.4 649.4 L494.0 640.9 L492.9 637.0 L490.9 639.0 L490.0 642.6 L489.4 645.0 L488.4 658.0 L486.4 665.0 L486.0 668.6 L485.9 669.5 L482.0 670.0 L481.9 670.0 L478.0 670.0 L474.0 670.0 L470.0 670.0 L466.0 670.0 L462.0 670.0 L458.0 670.0 L454.0 670.0 L450.0 670.0 L446.0 670.0 L442.0 670.0 L438.0 670.0 L434.0 670.0 L430.0 670.0 L426.0 670.0 L422.0 670.0 L418.0 670.0 L414.0 670.0 L410.0 670.0 L406.0 670.0 L402.0 670.0 L398.0 670.0 L394.0 670.0 L392.0 670.0 L390.5 670.5 L390.3 676.0 L390.0 676.0 L387.4 676.0 L387.3 689.5 L386.0 689.5 L382.0 689.5 L378.0 689.5 L374.0 689.5 L371.9 689.5 L370.0 685.6 L368.7 683.0 L366.8 682.1 L366.0 685.2 L362.0 685.2 L360.5 685.2 L359.0 682.0 L358.0 682.0 L354.0 681.9 L350.0 681.9 L346.0 681.8 L342.0 681.7 L338.0 681.7 L334.0 681.6 L330.0 681.6 L326.0 681.5 L322.0 681.4 L318.0 681.4 L314.0 681.3 L312.0 681.3 L310.0 681.3 L306.0 681.4 L302.0 681.5 L298.0 681.6 L294.0 681.6 L291.2 681.7 L290.0 681.5 L289.8 681.5 L288.5 681.3 L286.0 677.3 L285.5 676.5 L282.0 675.6 L279.0 674.8 L278.0 674.7 L274.0 674.3 L270.0 674.0 L268.0 673.8 L266.0 673.4 L262.0 672.6 L258.0 671.8 L254.0 670.6 L252.0 670.0 L250.0 670.0 L246.0 670.0 L242.0 670.0 L238.0 670.0 L234.0 670.0 L230.0 670.0 L226.0 670.0 L222.0 670.0 L218.0 670.0 L214.0 670.0 L210.0 670.0 L206.0 670.0 L202.0 670.0 L198.0 670.0 L194.0 670.0 L190.0 670.0 L186.0 670.0 L182.0 670.0 L178.0 670.0 L174.0 670.0 L170.0 670.0 L166.0 670.0 L162.0 670.0 L158.0 670.0 L154.0 670.0 L150.0 670.0 L146.0 670.0 L142.0 670.0 L138.0 670.0 L134.0 670.0 L130.0 670.0Z"/><path d="M130.0 701.5 L134.0 701.5 L138.0 701.5 L142.0 701.5 L146.0 701.5 L150.0 701.5 L154.0 701.5 L158.0 701.5 L162.0 701.5 L166.0 701.5 L170.0 701.5 L174.0 701.5 L178.0 701.5 L182.0 701.5 L186.0 701.5 L190.0 701.5 L194.0 701.5 L198.0 701.5 L202.0 701.5 L206.0 701.5 L210.0 701.5 L214.0 701.5 L218.0 701.5 L222.0 701.5 L226.0 701.5 L230.0 701.5 L234.0 701.5 L238.0 701.5 L242.0 701.5 L246.0 701.5 L250.0 701.5 L252.0 701.5 L254.0 702.1 L258.0 703.3 L262.0 704.1 L266.0 704.9 L268.0 705.3 L270.0 705.5 L274.0 705.8 L278.0 706.2 L279.0 706.3 L282.0 707.1 L285.5 708.0 L286.0 708.8 L288.5 712.8 L289.8 713.0 L290.0 713.0 L291.2 713.2 L294.0 713.1 L298.0 713.1 L302.0 713.0 L306.0 712.9 L310.0 712.8 L312.0 712.8 L314.0 712.8 L318.0 712.9 L322.0 712.9 L326.0 713.0 L330.0 713.1 L334.0 713.1 L338.0 713.2 L342.0 713.2 L346.0 713.3 L350.0 713.4 L354.0 713.4 L358.0 713.5 L359.0 713.5 L360.5 716.7 L362.0 716.7 L366.0 716.7 L366.8 713.6 L368.7 714.5 L370.0 717.1 L371.9 721.0 L374.0 721.0 L378.0 721.0 L382.0 721.0 L386.0 721.0 L387.3 721.0 L387.4 707.5 L390.0 707.5 L390.3 707.5 L390.5 702.0 L392.0 701.5 L394.0 701.5 L398.0 701.5 L402.0 701.5 L406.0 701.5 L410.0 701.5 L414.0 701.5 L418.0 701.5 L422.0 701.5 L426.0 701.5 L430.0 701.5 L434.0 701.5 L438.0 701.5 L442.0 701.5 L446.0 701.5 L450.0 701.5 L454.0 701.5 L458.0 701.5 L462.0 701.5 L466.0 701.5 L470.0 701.5 L474.0 701.5 L478.0 701.5 L481.9 701.5 L482.0 701.5 L485.9 701.0 L486.0 700.1 L486.4 696.5 L488.4 689.5 L489.4 676.5 L490.0 674.1 L490.9 670.5 L492.9 668.5 L494.0 672.4 L496.4 680.9 L498.0 686.0 L500.0 692.3 L502.0 698.2 L502.9 700.9 L504.4 704.0 L505.9 702.3 L506.0 702.4 L509.3 705.1 L510.0 705.8 L514.0 709.9 L516.4 712.3 L518.0 712.6 L522.0 713.3 L526.0 714.1 L527.9 714.4 L530.0 715.9 L532.8 715.9 L532.9 692.3 L534.0 692.3 L538.0 692.3 L542.0 692.3 L546.0 692.3 L550.0 692.3 L550.9 692.3 L552.1 695.0 L554.0 695.5 L554.2 695.5 L554.3 701.5 L558.0 701.5 L562.0 701.5 L566.0 701.5 L570.0 701.5 L574.0 701.5 L578.0 701.5 L582.0 701.5 L586.0 701.5 L590.0 701.5 L594.0 701.5 L598.0 701.5 L602.0 701.5 L606.0 701.5 L610.0 701.5 L614.0 701.5 L618.0 701.5 L622.0 701.5 L626.0 701.5 L630.0 701.5 L634.0 701.5 L638.0 701.5 L640.0 701.5 L642.0 701.1 L642.9 700.9 L643.6 692.5 L645.7 675.0 L646.0 674.2 L647.8 669.5 L649.3 668.7 L650.0 671.8 L651.4 678.0 L652.6 683.7 L654.0 692.9 L655.0 699.5 L657.9 703.7 L658.0 703.6 L660.7 701.0 L662.0 702.6 L662.9 703.7 L666.0 705.7 L668.6 707.3 L670.0 709.6 L672.0 713.0 L674.0 713.3 L678.0 714.0 L682.0 714.6 L685.0 715.1 L686.0 715.7 L687.5 716.6 L688.6 691.6 L690.0 691.6 L694.0 691.8 L698.0 691.9 L700.0 692.0 L702.0 692.4 L705.7 693.0 L706.0 697.5 L710.0 698.5 L710.5 701.5 L714.0 701.5 L718.0 701.5 L722.0 701.5 L726.0 701.5 L730.0 701.5 L734.0 701.5 L738.0 701.5 L742.0 701.5 L746.0 701.5 L750.0 701.5 L754.0 701.5 L758.0 701.5 L762.0 701.5 L766.0 701.5 L770.0 701.5 L774.0 701.5 L778.0 701.5 L782.0 701.5 L786.0 701.5 L790.0 701.5 L794.0 701.5 L798.0 701.5 L802.0 701.5 L806.0 701.5 L810.0 701.5 L814.0 701.5 L818.0 701.5 L822.0 701.5 L826.0 701.5 L830.0 701.5 L834.0 701.5 L838.0 701.5 L842.0 701.5 L846.0 701.5 L850.0 701.5 L854.0 701.5 L858.0 701.5 L862.0 701.5 L866.0 701.5 L870.0 701.5 L874.0 701.5 L878.0 701.5 L882.0 701.5 L886.0 701.5 L890.0 701.5 L894.0 701.5 L898.0 701.5 L902.0 701.5 L906.0 701.5 L910.0 701.5 L914.0 701.5 L918.0 701.5 L922.0 701.5 L926.0 701.5 L930.0 701.5 L934.0 701.5 L938.0 701.5 L942.0 701.5 L946.0 701.5 L950.0 701.5 L954.0 701.5 L958.0 701.5 L962.0 701.5 L966.0 701.5 L970.0 701.5 L974.0 701.5 L978.0 701.5 L982.0 701.5 L986.0 701.5 L990.0 701.5 L994.0 701.5 L998.0 701.5 L1002.0 701.5 L1006.0 701.5 L1010.0 701.5 L1014.0 701.5 L1018.0 701.5 L1022.0 701.5 L1026.0 701.5 L1030.0 701.5 L1034.0 701.5 L1038.0 701.5 L1042.0 701.5 L1045.0 701.5 L1045.0 824.7 L1042.0 824.7 L1038.0 824.7 L1034.0 824.7 L1030.0 824.7 L1026.0 824.7 L1022.0 824.7 L1018.0 824.7 L1014.0 824.7 L1010.0 824.7 L1006.0 824.7 L1002.0 824.7 L998.0 824.7 L994.0 824.7 L990.0 824.7 L986.0 824.7 L982.0 824.7 L978.0 824.7 L974.0 824.7 L970.0 824.7 L966.0 824.7 L962.0 824.7 L958.0 824.7 L954.0 824.7 L950.0 824.7 L946.0 824.7 L942.0 824.7 L938.0 824.7 L934.0 824.7 L930.0 824.7 L926.0 824.7 L922.0 824.7 L918.0 824.7 L914.0 824.7 L910.0 824.7 L906.0 824.7 L902.0 824.7 L898.0 824.7 L894.0 824.7 L890.0 824.7 L886.0 824.7 L882.0 824.7 L878.0 824.7 L874.0 824.7 L870.0 824.7 L866.0 824.7 L862.0 824.7 L858.0 824.7 L854.0 824.7 L850.0 824.7 L846.0 824.7 L842.0 824.7 L838.0 824.7 L834.0 824.7 L830.0 824.7 L826.0 824.7 L822.0 824.7 L818.0 824.7 L814.0 824.7 L810.0 824.7 L806.0 824.7 L802.0 824.7 L798.0 824.7 L794.0 824.7 L790.0 824.7 L786.0 824.7 L782.0 824.7 L778.0 824.7 L774.0 824.7 L770.0 824.7 L766.0 824.7 L762.0 824.7 L758.0 824.7 L754.0 824.7 L750.0 824.7 L746.0 824.7 L742.0 824.7 L738.0 824.7 L734.0 824.7 L730.0 824.7 L726.0 824.7 L722.0 824.7 L718.0 824.7 L714.0 824.7 L710.5 824.7 L710.0 821.7 L706.0 820.7 L705.7 816.2 L702.0 815.6 L700.0 815.2 L698.0 815.1 L694.0 815.0 L690.0 814.8 L688.6 814.8 L687.5 839.8 L686.0 838.9 L685.0 838.3 L682.0 837.8 L678.0 837.2 L674.0 836.5 L672.0 836.2 L670.0 832.8 L668.6 830.5 L666.0 828.9 L662.9 826.9 L662.0 825.8 L660.7 824.2 L658.0 826.8 L657.9 826.9 L655.0 822.7 L654.0 816.1 L652.6 806.9 L651.4 801.2 L650.0 795.0 L649.3 791.9 L647.8 792.7 L646.0 797.4 L645.7 798.2 L643.6 815.7 L642.9 824.1 L642.0 824.3 L640.0 824.7 L638.0 824.7 L634.0 824.7 L630.0 824.7 L626.0 824.7 L622.0 824.7 L618.0 824.7 L614.0 824.7 L610.0 824.7 L606.0 824.7 L602.0 824.7 L598.0 824.7 L594.0 824.7 L590.0 824.7 L586.0 824.7 L582.0 824.7 L578.0 824.7 L574.0 824.7 L570.0 824.7 L566.0 824.7 L562.0 824.7 L558.0 824.7 L554.3 824.7 L554.2 818.7 L554.0 818.7 L552.1 818.2 L550.9 815.5 L550.0 815.5 L546.0 815.5 L542.0 815.5 L538.0 815.5 L534.0 815.5 L532.9 815.5 L532.8 839.1 L530.0 839.1 L527.9 837.6 L526.0 837.3 L522.0 836.5 L518.0 835.8 L516.4 835.5 L514.0 833.1 L510.0 829.0 L509.3 828.3 L506.0 825.6 L505.9 825.5 L504.4 827.2 L502.9 824.1 L502.0 821.4 L500.0 815.5 L498.0 809.2 L496.4 804.1 L494.0 795.6 L492.9 791.7 L490.9 793.7 L490.0 797.3 L489.4 799.7 L488.4 812.7 L486.4 819.7 L486.0 823.3 L485.9 824.2 L482.0 824.7 L481.9 824.7 L478.0 824.7 L474.0 824.7 L470.0 824.7 L466.0 824.7 L462.0 824.7 L458.0 824.7 L454.0 824.7 L450.0 824.7 L446.0 824.7 L442.0 824.7 L438.0 824.7 L434.0 824.7 L430.0 824.7 L426.0 824.7 L422.0 824.7 L418.0 824.7 L414.0 824.7 L410.0 824.7 L406.0 824.7 L402.0 824.7 L398.0 824.7 L394.0 824.7 L392.0 824.7 L390.5 825.2 L390.3 830.7 L390.0 830.7 L387.4 830.7 L387.3 844.2 L386.0 844.2 L382.0 844.2 L378.0 844.2 L374.0 844.2 L371.9 844.2 L370.0 840.3 L368.7 837.7 L366.8 836.8 L366.0 839.9 L362.0 839.9 L360.5 839.9 L359.0 836.7 L358.0 836.7 L354.0 836.6 L350.0 836.6 L346.0 836.5 L342.0 836.4 L338.0 836.4 L334.0 836.3 L330.0 836.3 L326.0 836.2 L322.0 836.1 L318.0 836.1 L314.0 836.0 L312.0 836.0 L310.0 836.0 L306.0 836.1 L302.0 836.2 L298.0 836.3 L294.0 836.3 L291.2 836.4 L290.0 836.2 L289.8 836.2 L288.5 836.0 L286.0 832.0 L285.5 831.2 L282.0 830.3 L279.0 829.5 L278.0 829.4 L274.0 829.0 L270.0 828.7 L268.0 828.5 L266.0 828.1 L262.0 827.3 L258.0 826.5 L254.0 825.3 L252.0 824.7 L250.0 824.7 L246.0 824.7 L242.0 824.7 L238.0 824.7 L234.0 824.7 L230.0 824.7 L226.0 824.7 L222.0 824.7 L218.0 824.7 L214.0 824.7 L210.0 824.7 L206.0 824.7 L202.0 824.7 L198.0 824.7 L194.0 824.7 L190.0 824.7 L186.0 824.7 L182.0 824.7 L178.0 824.7 L174.0 824.7 L170.0 824.7 L166.0 824.7 L162.0 824.7 L158.0 824.7 L154.0 824.7 L150.0 824.7 L146.0 824.7 L142.0 824.7 L138.0 824.7 L134.0 824.7 L130.0 824.7Z"/><path d="M130.0 -73.1 L134.0 -73.1 L138.0 -73.1 L142.0 -73.1 L146.0 -73.1 L150.0 -73.1 L154.0 -73.1 L158.0 -73.1 L162.0 -73.1 L166.0 -73.1 L170.0 -73.1 L174.0 -73.1 L178.0 -73.1 L182.0 -73.1 L186.0 -73.1 L190.0 -73.1 L194.0 -73.1 L198.0 -73.1 L202.0 -73.1 L206.0 -73.1 L210.0 -73.1 L214.0 -73.1 L218.0 -73.1 L222.0 -73.1 L226.0 -73.1 L230.0 -73.1 L234.0 -73.1 L238.0 -73.1 L242.0 -73.1 L246.0 -73.1 L250.0 -73.1 L252.0 -73.1 L254.0 -72.5 L258.0 -71.3 L262.0 -70.5 L266.0 -69.7 L268.0 -69.3 L270.0 -69.1 L274.0 -68.8 L278.0 -68.4 L279.0 -68.3 L282.0 -67.5 L285.5 -66.6 L286.0 -65.8 L288.5 -61.8 L289.8 -61.6 L290.0 -61.6 L291.2 -61.4 L294.0 -61.5 L298.0 -61.5 L302.0 -61.6 L306.0 -61.7 L310.0 -61.8 L312.0 -61.8 L314.0 -61.8 L318.0 -61.7 L322.0 -61.7 L326.0 -61.6 L330.0 -61.5 L334.0 -61.5 L338.0 -61.4 L342.0 -61.4 L346.0 -61.3 L350.0 -61.2 L354.0 -61.2 L358.0 -61.1 L359.0 -61.1 L360.5 -57.9 L362.0 -57.9 L366.0 -57.9 L366.8 -61.0 L368.7 -60.1 L370.0 -57.5 L371.9 -53.6 L374.0 -53.6 L378.0 -53.6 L382.0 -53.6 L386.0 -53.6 L387.3 -53.6 L387.4 -67.1 L390.0 -67.1 L390.3 -67.1 L390.5 -72.6 L392.0 -73.1 L394.0 -73.1 L398.0 -73.1 L402.0 -73.1 L406.0 -73.1 L410.0 -73.1 L414.0 -73.1 L418.0 -73.1 L422.0 -73.1 L426.0 -73.1 L430.0 -73.1 L434.0 -73.1 L438.0 -73.1 L442.0 -73.1 L446.0 -73.1 L450.0 -73.1 L454.0 -73.1 L458.0 -73.1 L462.0 -73.1 L466.0 -73.1 L470.0 -73.1 L474.0 -73.1 L478.0 -73.1 L481.9 -73.1 L482.0 -73.1 L485.9 -73.6 L486.0 -74.5 L486.4 -78.1 L488.4 -85.1 L489.4 -98.1 L490.0 -100.5 L490.9 -104.1 L492.9 -106.1 L494.0 -102.2 L496.4 -93.7 L498.0 -88.6 L500.0 -82.3 L502.0 -76.4 L502.9 -73.7 L504.4 -70.6 L505.9 -72.3 L506.0 -72.2 L509.3 -69.5 L510.0 -68.8 L514.0 -64.7 L516.4 -62.3 L518.0 -62.0 L522.0 -61.3 L526.0 -60.5 L527.9 -60.2 L530.0 -58.7 L532.8 -58.7 L532.9 -82.3 L534.0 -82.3 L538.0 -82.3 L542.0 -82.3 L546.0 -82.3 L550.0 -82.3 L550.9 -82.3 L552.1 -79.6 L554.0 -79.1 L554.2 -79.1 L554.3 -73.1 L558.0 -73.1 L562.0 -73.1 L566.0 -73.1 L570.0 -73.1 L574.0 -73.1 L578.0 -73.1 L582.0 -73.1 L586.0 -73.1 L590.0 -73.1 L594.0 -73.1 L598.0 -73.1 L602.0 -73.1 L606.0 -73.1 L610.0 -73.1 L614.0 -73.1 L618.0 -73.1 L622.0 -73.1 L626.0 -73.1 L630.0 -73.1 L634.0 -73.1 L638.0 -73.1 L640.0 -73.1 L642.0 -73.5 L642.9 -73.7 L643.6 -82.1 L645.7 -99.6 L646.0 -100.4 L647.8 -105.1 L649.3 -105.9 L650.0 -102.8 L651.4 -96.6 L652.6 -90.9 L654.0 -81.7 L655.0 -75.1 L657.9 -70.9 L658.0 -71.0 L660.7 -73.6 L662.0 -72.0 L662.9 -70.9 L666.0 -68.9 L668.6 -67.3 L670.0 -65.0 L672.0 -61.6 L674.0 -61.3 L678.0 -60.6 L682.0 -60.0 L685.0 -59.5 L686.0 -58.9 L687.5 -58.0 L688.6 -83.0 L690.0 -83.0 L694.0 -82.8 L698.0 -82.7 L700.0 -82.6 L702.0 -82.2 L705.7 -81.6 L706.0 -77.1 L710.0 -76.1 L710.5 -73.1 L714.0 -73.1 L718.0 -73.1 L722.0 -73.1 L726.0 -73.1 L730.0 -73.1 L734.0 -73.1 L738.0 -73.1 L742.0 -73.1 L746.0 -73.1 L750.0 -73.1 L754.0 -73.1 L758.0 -73.1 L762.0 -73.1 L766.0 -73.1 L770.0 -73.1 L774.0 -73.1 L778.0 -73.1 L782.0 -73.1 L786.0 -73.1 L790.0 -73.1 L794.0 -73.1 L798.0 -73.1 L802.0 -73.1 L806.0 -73.1 L810.0 -73.1 L814.0 -73.1 L818.0 -73.1 L822.0 -73.1 L826.0 -73.1 L830.0 -73.1 L834.0 -73.1 L838.0 -73.1 L842.0 -73.1 L846.0 -73.1 L850.0 -73.1 L854.0 -73.1 L858.0 -73.1 L862.0 -73.1 L866.0 -73.1 L870.0 -73.1 L874.0 -73.1 L878.0 -73.1 L882.0 -73.1 L886.0 -73.1 L890.0 -73.1 L894.0 -73.1 L898.0 -73.1 L902.0 -73.1 L906.0 -73.1 L910.0 -73.1 L914.0 -73.1 L918.0 -73.1 L922.0 -73.1 L926.0 -73.1 L930.0 -73.1 L934.0 -73.1 L938.0 -73.1 L942.0 -73.1 L946.0 -73.1 L950.0 -73.1 L954.0 -73.1 L958.0 -73.1 L962.0 -73.1 L966.0 -73.1 L970.0 -73.1 L974.0 -73.1 L978.0 -73.1 L982.0 -73.1 L986.0 -73.1 L990.0 -73.1 L994.0 -73.1 L998.0 -73.1 L1002.0 -73.1 L1006.0 -73.1 L1010.0 -73.1 L1014.0 -73.1 L1018.0 -73.1 L1022.0 -73.1 L1026.0 -73.1 L1030.0 -73.1 L1034.0 -73.1 L1038.0 -73.1 L1042.0 -73.1 L1045.0 -73.1 L1045.0 50.3 L1042.0 50.3 L1038.0 50.3 L1034.0 50.3 L1030.0 50.3 L1026.0 50.3 L1022.0 50.3 L1018.0 50.3 L1014.0 50.3 L1010.0 50.3 L1006.0 50.3 L1002.0 50.3 L998.0 50.3 L994.0 50.3 L990.0 50.3 L986.0 50.3 L982.0 50.3 L978.0 50.3 L974.0 50.3 L970.0 50.3 L966.0 50.3 L962.0 50.3 L958.0 50.3 L954.0 50.3 L950.0 50.3 L946.0 50.3 L942.0 50.3 L938.0 50.3 L934.0 50.3 L930.0 50.3 L926.0 50.3 L922.0 50.3 L918.0 50.3 L914.0 50.3 L910.0 50.3 L906.0 50.3 L902.0 50.3 L898.0 50.3 L894.0 50.3 L890.0 50.3 L886.0 50.3 L882.0 50.3 L878.0 50.3 L874.0 50.3 L870.0 50.3 L866.0 50.3 L862.0 50.3 L858.0 50.3 L854.0 50.3 L850.0 50.3 L846.0 50.3 L842.0 50.3 L838.0 50.3 L834.0 50.3 L830.0 50.3 L826.0 50.3 L822.0 50.3 L818.0 50.3 L814.0 50.3 L810.0 50.3 L806.0 50.3 L802.0 50.3 L798.0 50.3 L794.0 50.3 L790.0 50.3 L786.0 50.3 L782.0 50.3 L778.0 50.3 L774.0 50.3 L770.0 50.3 L766.0 50.3 L762.0 50.3 L758.0 50.3 L754.0 50.3 L750.0 50.3 L746.0 50.3 L742.0 50.3 L738.0 50.3 L734.0 50.3 L730.0 50.3 L726.0 50.3 L722.0 50.3 L718.0 50.3 L714.0 50.3 L710.5 50.3 L710.0 47.3 L706.0 46.3 L705.7 41.8 L702.0 41.2 L700.0 40.8 L698.0 40.7 L694.0 40.6 L690.0 40.4 L688.6 40.4 L687.5 65.4 L686.0 64.5 L685.0 63.9 L682.0 63.4 L678.0 62.8 L674.0 62.1 L672.0 61.8 L670.0 58.4 L668.6 56.1 L666.0 54.5 L662.9 52.5 L662.0 51.4 L660.7 49.8 L658.0 52.4 L657.9 52.5 L655.0 48.3 L654.0 41.7 L652.6 32.5 L651.4 26.8 L650.0 20.6 L649.3 17.5 L647.8 18.3 L646.0 23.0 L645.7 23.8 L643.6 41.3 L642.9 49.7 L642.0 49.9 L640.0 50.3 L638.0 50.3 L634.0 50.3 L630.0 50.3 L626.0 50.3 L622.0 50.3 L618.0 50.3 L614.0 50.3 L610.0 50.3 L606.0 50.3 L602.0 50.3 L598.0 50.3 L594.0 50.3 L590.0 50.3 L586.0 50.3 L582.0 50.3 L578.0 50.3 L574.0 50.3 L570.0 50.3 L566.0 50.3 L562.0 50.3 L558.0 50.3 L554.3 50.3 L554.2 44.3 L554.0 44.3 L552.1 43.8 L550.9 41.1 L550.0 41.1 L546.0 41.1 L542.0 41.1 L538.0 41.1 L534.0 41.1 L532.9 41.1 L532.8 64.7 L530.0 64.7 L527.9 63.2 L526.0 62.9 L522.0 62.1 L518.0 61.4 L516.4 61.1 L514.0 58.7 L510.0 54.6 L509.3 53.9 L506.0 51.2 L505.9 51.1 L504.4 52.8 L502.9 49.7 L502.0 47.0 L500.0 41.1 L498.0 34.8 L496.4 29.7 L494.0 21.2 L492.9 17.3 L490.9 19.3 L490.0 22.9 L489.4 25.3 L488.4 38.3 L486.4 45.3 L486.0 48.9 L485.9 49.8 L482.0 50.3 L481.9 50.3 L478.0 50.3 L474.0 50.3 L470.0 50.3 L466.0 50.3 L462.0 50.3 L458.0 50.3 L454.0 50.3 L450.0 50.3 L446.0 50.3 L442.0 50.3 L438.0 50.3 L434.0 50.3 L430.0 50.3 L426.0 50.3 L422.0 50.3 L418.0 50.3 L414.0 50.3 L410.0 50.3 L406.0 50.3 L402.0 50.3 L398.0 50.3 L394.0 50.3 L392.0 50.3 L390.5 50.8 L390.3 56.3 L390.0 56.3 L387.4 56.3 L387.3 69.8 L386.0 69.8 L382.0 69.8 L378.0 69.8 L374.0 69.8 L371.9 69.8 L370.0 65.9 L368.7 63.3 L366.8 62.4 L366.0 65.5 L362.0 65.5 L360.5 65.5 L359.0 62.3 L358.0 62.3 L354.0 62.2 L350.0 62.2 L346.0 62.1 L342.0 62.0 L338.0 62.0 L334.0 61.9 L330.0 61.9 L326.0 61.8 L322.0 61.7 L318.0 61.7 L314.0 61.6 L312.0 61.6 L310.0 61.6 L306.0 61.7 L302.0 61.8 L298.0 61.9 L294.0 61.9 L291.2 62.0 L290.0 61.8 L289.8 61.8 L288.5 61.6 L286.0 57.6 L285.5 56.8 L282.0 55.9 L279.0 55.1 L278.0 55.0 L274.0 54.6 L270.0 54.3 L268.0 54.1 L266.0 53.7 L262.0 52.9 L258.0 52.1 L254.0 50.9 L252.0 50.3 L250.0 50.3 L246.0 50.3 L242.0 50.3 L238.0 50.3 L234.0 50.3 L230.0 50.3 L226.0 50.3 L222.0 50.3 L218.0 50.3 L214.0 50.3 L210.0 50.3 L206.0 50.3 L202.0 50.3 L198.0 50.3 L194.0 50.3 L190.0 50.3 L186.0 50.3 L182.0 50.3 L178.0 50.3 L174.0 50.3 L170.0 50.3 L166.0 50.3 L162.0 50.3 L158.0 50.3 L154.0 50.3 L150.0 50.3 L146.0 50.3 L142.0 50.3 L138.0 50.3 L134.0 50.3 L130.0 50.3Z"/></g>
</g>
<g stroke="rgb(114,45,114)" stroke-opacity="0.74" stroke-width="1.3"><line x1="130" y1="66.00" x2="1044" y2="66.00"/><line x1="130" y1="83.21" x2="1044" y2="83.21"/><line x1="130" y1="100.43" x2="1044" y2="100.43"/><line x1="130" y1="117.64" x2="1044" y2="117.64"/><line x1="130" y1="134.86" x2="1044" y2="134.86"/><line x1="130" y1="152.07" x2="1044" y2="152.07"/><line x1="130" y1="169.28" x2="1044" y2="169.28"/><line x1="130" y1="186.50" x2="1044" y2="186.50"/><line x1="130" y1="203.71" x2="1044" y2="203.71"/><line x1="130" y1="220.93" x2="1044" y2="220.93"/><line x1="130" y1="238.14" x2="1044" y2="238.14"/><line x1="130" y1="255.35" x2="1044" y2="255.35"/><line x1="130" y1="272.57" x2="1044" y2="272.57"/><line x1="130" y1="289.78" x2="1044" y2="289.78"/><line x1="130" y1="306.99" x2="1044" y2="306.99"/><line x1="130" y1="324.21" x2="1044" y2="324.21"/><line x1="130" y1="341.42" x2="1044" y2="341.42"/><line x1="130" y1="358.64" x2="1044" y2="358.64"/><line x1="130" y1="393.06" x2="1044" y2="393.06"/><line x1="130" y1="410.28" x2="1044" y2="410.28"/><line x1="130" y1="427.49" x2="1044" y2="427.49"/><line x1="130" y1="444.71" x2="1044" y2="444.71"/><line x1="130" y1="461.92" x2="1044" y2="461.92"/><line x1="130" y1="479.13" x2="1044" y2="479.13"/><line x1="130" y1="496.35" x2="1044" y2="496.35"/><line x1="130" y1="513.56" x2="1044" y2="513.56"/><line x1="130" y1="530.77" x2="1044" y2="530.77"/><line x1="130" y1="547.99" x2="1044" y2="547.99"/><line x1="130" y1="565.20" x2="1044" y2="565.20"/><line x1="130" y1="582.42" x2="1044" y2="582.42"/><line x1="130" y1="599.63" x2="1044" y2="599.63"/><line x1="130" y1="616.84" x2="1044" y2="616.84"/><line x1="130" y1="634.06" x2="1044" y2="634.06"/><line x1="130" y1="651.27" x2="1044" y2="651.27"/><line x1="130" y1="668.49" x2="1044" y2="668.49"/><line x1="130" y1="685.70" x2="1044" y2="685.70"/></g>
<line x1="131.5" y1="375.85" x2="1044" y2="375.85" stroke="#f4f4f4" stroke-width="2"/>
<line x1="131.4" y1="65.5" x2="131.4" y2="686" stroke="#f0f0f0" stroke-width="1.2"/>
<g fill="#e4e4e4" font-family="Liberation Sans" font-size="10.4" text-anchor="end" text-rendering="geometricPrecision" transform="translate(129.2,0) scale(0.78,1)"><text x="0" y="69.00">-360</text><text x="0" y="86.21">-340</text><text x="0" y="103.43">-320</text><text x="0" y="120.64">-300</text><text x="0" y="137.86">-280</text><text x="0" y="155.07">-260</text><text x="0" y="172.28">-240</text><text x="0" y="189.50">-220</text><text x="0" y="206.71">-200</text><text x="0" y="223.93">-180</text><text x="0" y="241.14">-160</text><text x="0" y="258.35">-140</text><text x="0" y="275.57">-120</text><text x="0" y="292.78">-100</text><text x="0" y="309.99">-80</text><text x="0" y="327.21">-60</text><text x="0" y="344.42">-40</text><text x="0" y="361.64">-20</text><text x="0" y="378.85">0</text><text x="0" y="396.06">20</text><text x="0" y="413.28">40</text><text x="0" y="430.49">60</text><text x="0" y="447.71">80</text><text x="0" y="464.92">100</text><text x="0" y="482.13">120</text><text x="0" y="499.35">140</text><text x="0" y="516.56">160</text><text x="0" y="533.77">180</text><text x="0" y="550.99">200</text><text x="0" y="568.20">220</text><text x="0" y="585.42">240</text><text x="0" y="602.63">260</text><text x="0" y="619.84">280</text><text x="0" y="637.06">300</text><text x="0" y="654.27">320</text><text x="0" y="671.49">340</text><text x="0" y="688.70">360</text></g>
<g clip-path="url(#cc)">
<g fill="none" stroke="#4a4a4a" stroke-linejoin="round"><polyline stroke-width="3.2" points="359.5,140.0 360.3,160.0 360.6,200.0 360.1,219.0 362.2,267.0 365.6,305.0 368.0,330.0 371.5,374.0 374.5,420.0 380.0,480.0 383.0,540.0 385.8,576.0"/><polyline stroke-width="3.6" points="385.8,574.0 387.0,584.0 390.4,565.0 393.6,584.0 396.0,600.0 398.0,610.0 403.0,625.0 408.0,637.0"/><polyline stroke-width="2.6" points="481.5,662.0 482.0,647.0 484.0,604.0 484.7,560.0 487.5,400.0 490.0,225.0 492.5,48.0"/><polyline stroke-width="3.2" points="550.8,538.0 552.0,557.0 553.5,572.5 556.4,546.5 558.0,560.0 560.6,581.0 561.5,584.0"/><polyline stroke-width="2.6" points="632.5,662.0 635.4,644.0 640.0,560.0 643.5,430.0 646.5,200.0 648.5,48.0"/><polyline stroke-width="3.2" points="706.1,528.0 708.5,553.0 710.6,571.0 712.5,552.0 714.0,565.0 716.0,580.0 717.0,584.0"/></g>
<g fill="#4a4a4a"><polygon points="132.0,663.8 134.0,663.8 134.0,666.9 136.0,666.9 136.0,663.0 138.0,663.0 138.0,667.8 140.0,667.8 140.0,669.5 142.0,669.5 142.0,669.0 144.0,669.0 144.0,662.1 146.0,662.1 146.0,667.8 148.0,667.8 148.0,663.8 150.0,663.8 150.0,664.3 152.0,664.3 152.0,667.0 154.0,667.0 154.0,667.7 156.0,667.7 156.0,666.9 158.0,666.9 158.0,668.2 160.0,668.2 160.0,664.9 162.0,664.9 162.0,665.9 164.0,665.9 164.0,665.8 166.0,665.8 166.0,662.5 168.0,662.5 168.0,664.4 170.0,664.4 170.0,666.6 172.0,666.6 172.0,666.7 174.0,666.7 174.0,664.5 176.0,664.5 176.0,666.3 178.0,666.3 178.0,666.1 180.0,666.1 180.0,664.2 182.0,664.2 182.0,670.0 184.0,670.0 184.0,665.9 186.0,665.9 186.0,668.2 188.0,668.2 188.0,666.1 190.0,666.1 190.0,663.6 192.0,663.6 192.0,664.4 194.0,664.4 194.0,667.1 196.0,667.1 196.0,667.3 198.0,667.3 198.0,668.3 200.0,668.3 200.0,670.8 202.0,670.8 202.0,668.5 204.0,668.5 204.0,669.2 206.0,669.2 206.0,667.3 208.0,667.3 208.0,667.2 210.0,667.2 210.0,667.7 212.0,667.7 212.0,665.9 214.0,665.9 214.0,664.6 216.0,664.6 216.0,660.0 218.0,660.0 218.0,661.8 220.0,661.8 220.0,662.0 222.0,662.0 222.0,660.6 224.0,660.6 224.0,656.0 226.0,656.0 226.0,659.2 228.0,659.2 228.0,658.0 230.0,658.0 230.0,658.0 232.0,658.0 232.0,656.4 234.0,656.4 234.0,656.2 236.0,656.2 236.0,655.5 236.0,655.5 236.0,665.0 236.0,665.0 236.0,665.0 234.0,665.0 234.0,666.0 232.0,666.0 232.0,669.4 230.0,669.4 230.0,666.6 228.0,666.6 228.0,667.8 226.0,667.8 226.0,671.4 224.0,671.4 224.0,669.3 222.0,669.3 222.0,670.8 220.0,670.8 220.0,669.1 218.0,669.1 218.0,670.0 216.0,670.0 216.0,675.7 214.0,675.7 214.0,679.1 212.0,679.1 212.0,677.5 210.0,677.5 210.0,676.2 208.0,676.2 208.0,678.5 206.0,678.5 206.0,681.8 204.0,681.8 204.0,677.2 202.0,677.2 202.0,679.6 200.0,679.6 200.0,678.5 198.0,678.5 198.0,678.0 196.0,678.0 196.0,680.6 194.0,680.6 194.0,677.8 192.0,677.8 192.0,677.7 190.0,677.7 190.0,677.2 188.0,677.2 188.0,681.1 186.0,681.1 186.0,677.2 184.0,677.2 184.0,678.9 182.0,678.9 182.0,680.5 180.0,680.5 180.0,676.0 178.0,676.0 178.0,676.1 176.0,676.1 176.0,677.6 174.0,677.6 174.0,680.3 172.0,680.3 172.0,677.3 170.0,677.3 170.0,675.9 168.0,675.9 168.0,677.2 166.0,677.2 166.0,676.0 164.0,676.0 164.0,679.8 162.0,679.8 162.0,679.6 160.0,679.6 160.0,676.2 158.0,676.2 158.0,676.8 156.0,676.8 156.0,675.2 154.0,675.2 154.0,679.8 152.0,679.8 152.0,680.5 150.0,680.5 150.0,677.5 148.0,677.5 148.0,677.7 146.0,677.7 146.0,676.2 144.0,676.2 144.0,677.4 142.0,677.4 142.0,681.3 140.0,681.3 140.0,682.3 138.0,682.3 138.0,680.1 136.0,680.1 136.0,675.8 134.0,675.8 134.0,677.5 132.0,677.5"/><polygon points="234.0,654.5 236.0,654.5 236.0,641.3 238.0,641.3 238.0,640.2 240.0,640.2 240.0,633.0 242.0,633.0 242.0,632.2 244.0,632.2 244.0,626.9 246.0,626.9 246.0,621.9 248.0,621.9 248.0,616.0 250.0,616.0 250.0,612.8 252.0,612.8 252.0,611.2 254.0,611.2 254.0,612.6 256.0,612.6 256.0,611.1 258.0,611.1 258.0,603.5 260.0,603.5 260.0,603.5 262.0,603.5 262.0,598.2 264.0,598.2 264.0,600.1 266.0,600.1 266.0,593.5 268.0,593.5 268.0,596.5 270.0,596.5 270.0,594.1 272.0,594.1 272.0,592.8 274.0,592.8 274.0,585.3 276.0,585.3 276.0,581.8 278.0,581.8 278.0,575.5 280.0,575.5 280.0,567.1 282.0,567.1 282.0,558.7 284.0,558.7 284.0,552.6 285.0,552.6 285.0,567.0 284.0,567.0 284.0,578.2 282.0,578.2 282.0,587.0 280.0,587.0 280.0,593.2 278.0,593.2 278.0,599.5 276.0,599.5 276.0,601.9 274.0,601.9 274.0,602.0 272.0,602.0 272.0,601.6 270.0,601.6 270.0,606.2 268.0,606.2 268.0,608.6 266.0,608.6 266.0,609.6 264.0,609.6 264.0,611.1 262.0,611.1 262.0,614.8 260.0,614.8 260.0,619.3 258.0,619.3 258.0,617.3 256.0,617.3 256.0,620.9 254.0,620.9 254.0,623.7 252.0,623.7 252.0,626.8 250.0,626.8 250.0,629.7 248.0,629.7 248.0,637.0 246.0,637.0 246.0,640.0 244.0,640.0 244.0,647.9 242.0,647.9 242.0,652.6 240.0,652.6 240.0,658.0 238.0,658.0 238.0,660.7 236.0,660.7 236.0,666.7 234.0,666.7"/><polygon points="354.3,135.5 354.3,140.0 351.8,140.0 351.8,143.3 350.4,143.3 350.4,146.7 350.5,146.7 350.5,150.0 350.6,150.0 350.6,153.0 349.7,153.0 349.7,156.0 350.3,156.0 350.3,159.0 349.6,159.0 349.6,162.0 349.5,162.0 349.5,165.0 350.0,165.0 350.0,168.0 349.8,168.0 349.8,171.0 350.3,171.0 350.3,176.0 345.0,176.0 345.0,181.0 343.0,181.0 343.0,184.7 342.7,184.7 342.7,188.3 342.1,188.3 342.1,192.0 341.6,192.0 341.6,197.0 340.9,197.0 340.9,202.0 340.7,202.0 340.7,206.3 339.9,206.3 339.9,210.7 338.1,210.7 338.1,215.0 337.2,215.0 337.2,219.3 335.6,219.3 335.6,222.7 335.8,222.7 335.8,226.2 335.9,226.2 335.9,229.6 334.7,229.6 334.7,233.0 334.7,233.0 334.7,236.4 333.2,236.4 333.2,239.9 333.4,239.9 333.4,243.3 331.3,243.3 331.3,246.7 330.0,246.7 330.0,250.2 330.6,250.2 330.6,253.6 329.6,253.6 329.6,257.0 329.2,257.0 329.2,260.4 327.4,260.4 327.4,263.9 328.3,263.9 328.3,267.3 327.0,267.3 327.0,270.7 327.4,270.7 327.4,274.2 326.4,274.1 326.4,277.6 326.2,277.6 326.2,281.0 325.3,281.0 325.3,284.1 325.4,284.1 325.4,287.2 323.5,287.2 323.5,290.2 323.8,290.2 323.8,293.3 323.2,293.3 323.2,296.4 322.7,296.4 322.7,299.8 323.1,299.8 323.1,303.2 322.7,303.2 322.7,306.6 322.5,306.6 322.5,310.0 321.5,310.0 321.5,313.3 321.5,313.3 321.5,316.7 321.9,316.7 321.9,320.0 321.3,320.0 321.3,323.3 321.1,323.3 321.1,326.7 320.0,326.7 320.0,330.0 320.3,330.0 320.3,333.1 318.9,333.1 318.9,336.2 318.7,336.2 318.7,339.4 318.8,339.4 318.8,342.5 317.8,342.5 317.8,345.6 318.9,345.6 318.9,348.7 317.9,348.7 317.9,351.8 317.6,351.9 317.6,355.0 317.2,355.0 317.2,358.1 316.9,358.1 316.9,361.2 316.1,361.2 316.1,364.3 314.7,364.3 314.7,367.5 315.8,367.5 315.8,370.6 315.3,370.6 315.3,373.7 314.4,373.7 314.4,376.8 314.0,376.8 314.0,379.9 313.7,379.9 313.7,383.0 313.5,383.0 313.5,386.0 312.0,386.0 312.0,389.1 312.9,389.1 312.9,392.2 311.5,392.2 311.5,395.3 310.8,395.3 310.8,398.4 310.8,398.4 310.8,401.5 311.3,401.5 311.3,404.6 309.9,404.6 309.9,407.7 310.6,407.7 310.6,410.7 310.6,410.7 310.6,413.8 309.3,413.8 309.3,416.9 308.7,416.9 308.7,420.0 308.5,420.0 308.5,423.0 308.0,423.0 308.0,426.0 308.0,426.0 308.0,429.0 307.7,429.0 307.7,432.0 306.9,432.0 306.9,435.0 306.5,435.0 306.5,438.0 304.9,438.0 304.9,441.0 304.6,441.0 304.6,444.0 304.4,444.0 304.4,447.0 304.9,447.0 304.9,450.0 303.5,450.0 303.5,453.0 303.6,453.0 303.6,456.0 302.0,456.0 302.0,459.0 301.7,459.0 301.7,462.0 301.6,462.0 301.6,465.0 302.0,465.0 302.0,468.0 301.6,468.0 301.6,471.0 301.1,471.0 301.1,474.0 299.9,474.0 299.9,477.0 299.9,477.0 299.9,480.0 299.3,480.0 299.3,483.0 298.8,483.0 298.8,486.0 297.7,486.0 297.7,489.0 298.0,489.0 298.0,492.0 298.3,492.0 298.3,495.0 296.5,495.0 296.5,498.0 297.6,498.0 297.6,501.0 297.1,501.0 297.1,504.0 294.8,504.0 294.8,507.0 295.3,507.0 295.3,510.0 295.6,510.0 295.6,513.0 295.4,513.0 295.4,516.0 294.0,516.0 294.0,519.0 293.2,519.0 293.2,522.0 292.6,522.0 292.6,525.0 293.6,525.0 293.6,528.0 292.3,528.0 292.3,531.1 291.0,531.1 291.0,534.2 290.9,534.2 290.9,537.3 289.3,537.3 289.3,540.4 289.3,540.4 289.3,543.5 289.4,543.5 289.4,546.6 286.9,546.6 286.9,549.7 287.6,549.7 287.6,552.8 286.2,552.8 286.2,555.9 286.1,555.9 286.1,559.0 284.6,559.0 284.6,562.0 284.3,562.0 284.3,565.0 282.6,565.0 282.6,568.0 283.2,568.0 283.2,571.0 281.7,571.0 281.7,574.0 280.0,574.0 280.0,577.0 279.2,577.0 279.2,580.0 279.5,580.0 283.5,580.0 283.5,577.0 284.4,577.0 284.4,574.0 285.2,574.0 285.2,571.0 285.9,571.0 285.9,568.0 286.5,568.0 286.5,565.0 287.8,565.0 287.8,562.0 288.6,562.0 288.6,559.0 289.8,559.0 289.8,555.9 291.0,555.9 291.0,552.8 290.2,552.8 290.2,549.7 292.1,549.7 292.1,546.6 292.8,546.6 292.8,543.5 292.3,543.5 292.3,540.4 294.2,540.4 294.2,537.3 294.5,537.3 294.5,534.2 295.4,534.2 295.4,531.1 295.0,531.1 295.0,528.0 296.0,528.0 296.0,525.0 296.3,525.0 296.3,522.0 296.8,522.0 296.8,519.0 298.2,519.0 298.2,516.0 298.0,516.0 298.0,513.0 298.1,513.0 298.1,510.0 298.7,510.0 298.7,507.0 298.9,507.0 298.9,504.0 299.0,504.0 299.0,501.0 299.5,501.0 299.5,498.0 301.2,498.0 301.2,495.0 300.7,495.0 300.7,492.0 302.2,492.0 302.2,489.0 302.0,489.0 302.0,486.0 302.1,486.0 302.1,483.0 302.6,483.0 302.6,480.0 303.5,480.0 303.5,477.0 303.5,477.0 303.5,474.0 304.3,474.0 304.3,471.0 305.8,471.0 305.8,468.0 306.1,468.0 306.1,465.0 306.5,465.0 306.5,462.0 306.7,462.0 306.7,459.0 307.7,459.0 307.7,456.0 308.3,456.0 308.3,453.0 308.1,453.0 308.1,450.0 308.9,450.0 308.9,447.0 308.3,447.0 308.3,444.0 309.9,444.0 309.9,441.0 310.0,441.0 310.0,438.0 311.0,438.0 311.0,435.0 311.3,435.0 311.3,432.0 311.2,432.0 311.2,429.0 311.4,429.0 311.4,426.0 313.3,426.0 313.3,423.0 312.5,423.0 312.5,420.0 313.6,420.0 313.6,416.9 314.0,416.9 314.0,413.8 314.3,413.8 314.3,410.7 314.7,410.7 314.7,407.7 315.9,407.7 315.9,404.6 316.8,404.6 316.8,401.5 316.1,401.5 316.1,398.4 317.2,398.4 317.2,395.3 317.1,395.3 317.1,392.2 318.0,392.2 318.0,389.1 318.2,389.1 318.2,386.0 318.3,386.0 318.3,383.0 318.8,383.0 318.8,379.9 319.4,379.9 319.4,376.8 321.0,376.8 321.0,373.7 320.8,373.7 320.8,370.6 321.3,370.6 321.3,367.5 321.3,367.5 321.3,364.3 322.8,364.3 322.8,361.2 323.5,361.2 323.5,358.1 323.0,358.1 323.0,355.0 323.0,355.0 323.0,351.9 323.6,351.9 323.6,348.7 323.9,348.7 323.9,345.6 324.7,345.6 324.7,342.5 324.8,342.5 324.8,339.4 325.5,339.4 325.5,336.2 326.0,336.2 326.0,333.1 326.9,333.1 326.9,330.0 327.3,330.0 327.3,326.7 328.4,326.7 328.4,323.3 328.6,323.3 328.6,320.0 328.5,320.0 328.5,316.7 329.0,316.7 329.0,313.3 329.6,313.3 329.6,310.0 330.0,310.0 330.0,306.6 330.3,306.6 330.3,303.2 330.8,303.2 330.8,299.8 330.9,299.8 330.9,296.4 332.1,296.4 332.1,293.3 332.3,293.3 332.3,290.2 333.9,290.2 333.9,287.2 333.1,287.2 333.1,284.1 334.2,284.1 334.2,281.0 334.7,281.0 334.7,277.6 335.6,277.6 335.6,274.1 336.6,274.1 336.6,270.7 336.2,270.7 336.2,267.3 337.3,267.3 337.3,263.9 338.2,263.9 338.2,260.4 339.4,260.4 339.4,257.0 341.0,257.0 341.0,253.6 342.4,253.6 342.4,250.2 343.2,250.2 343.2,246.7 344.9,246.7 344.9,243.3 345.0,243.3 345.0,239.9 346.1,239.9 346.1,236.4 346.7,236.4 346.7,233.0 346.7,233.0 346.7,229.6 346.6,229.6 346.6,226.1 347.3,226.2 347.3,222.7 349.0,222.7 349.0,219.3 349.3,219.3 349.3,215.0 350.3,215.0 350.3,210.7 350.1,210.7 350.1,207.7 351.8,207.7 351.8,204.7 353.6,204.7 353.6,207.7 356.3,207.7 356.3,210.7 358.7,210.7 358.7,205.0 360.3,205.0 360.3,201.2 359.3,201.2 359.3,197.4 359.8,197.4 359.8,193.6 359.8,193.6 359.8,189.3 360.5,189.3 360.5,185.0 359.8,185.0 359.8,180.8 360.3,180.8 360.3,176.5 359.7,176.5 359.7,173.3 360.2,173.3 360.2,170.1 360.4,170.1 360.4,166.8 359.2,166.8 359.2,163.6 359.0,163.6 359.0,160.4 359.0,160.4 359.0,157.2 359.6,157.1 359.6,153.9 359.8,153.9 359.8,150.7 359.5,150.7 359.5,147.1 359.9,147.1 359.9,143.6 359.3,143.6 359.3,140.0 358.6,140.0 358.6,135.5 356.5,135.5"/><polygon points="406.0,632.2 408.0,632.2 408.0,636.7 410.0,636.7 410.0,641.6 412.0,641.6 412.0,647.4 414.0,647.4 414.0,650.1 416.0,650.1 416.0,651.7 418.0,651.7 418.0,654.7 420.0,654.7 420.0,655.0 422.0,655.0 422.0,654.0 424.0,654.0 424.0,655.5 426.0,655.5 426.0,656.0 428.0,656.0 428.0,653.6 430.0,653.6 430.0,650.4 432.0,650.4 432.0,653.8 434.0,653.8 434.0,657.1 436.0,657.1 436.0,654.8 438.0,654.8 438.0,655.7 440.0,655.7 440.0,656.2 442.0,656.2 442.0,654.0 444.0,654.0 444.0,651.0 446.0,651.0 446.0,654.6 448.0,654.6 448.0,653.5 450.0,653.5 450.0,652.9 452.0,652.9 452.0,652.5 454.0,652.5 454.0,656.2 456.0,656.2 456.0,654.6 458.0,654.6 458.0,652.7 460.0,652.7 460.0,656.0 462.0,656.0 462.0,652.9 464.0,652.9 464.0,653.9 466.0,653.9 466.0,653.5 468.0,653.5 468.0,650.4 470.0,650.4 470.0,655.4 472.0,655.4 472.0,656.0 474.0,656.0 474.0,653.8 476.0,653.8 476.0,653.0 478.0,653.0 478.0,649.3 480.0,649.3 480.0,641.0 481.0,641.0 481.0,651.5 480.0,651.5 480.0,660.8 478.0,660.8 478.0,659.6 476.0,659.6 476.0,661.7 474.0,661.7 474.0,665.1 472.0,665.1 472.0,663.6 470.0,663.6 470.0,661.2 468.0,661.2 468.0,661.8 466.0,661.8 466.0,663.6 464.0,663.6 464.0,662.3 462.0,662.3 462.0,661.5 460.0,661.5 460.0,665.1 458.0,665.1 458.0,664.6 456.0,664.6 456.0,663.2 454.0,663.2 454.0,662.1 452.0,662.1 452.0,662.8 450.0,662.8 450.0,661.8 448.0,661.8 448.0,662.3 446.0,662.3 446.0,662.7 444.0,662.7 444.0,666.2 442.0,666.2 442.0,663.0 440.0,663.0 440.0,665.5 438.0,665.5 438.0,661.8 436.0,661.8 436.0,666.1 434.0,666.1 434.0,662.0 432.0,662.0 432.0,663.6 430.0,663.6 430.0,665.6 428.0,665.6 428.0,664.0 426.0,664.0 426.0,662.7 424.0,662.7 424.0,664.7 422.0,664.7 422.0,663.8 420.0,663.8 420.0,664.2 418.0,664.2 418.0,658.8 416.0,658.8 416.0,661.0 414.0,661.0 414.0,656.8 412.0,656.8 412.0,651.6 410.0,651.6 410.0,647.3 408.0,647.3 408.0,639.8 406.0,639.8"/><polygon points="513.6,50.0 515.0,65.0 517.4,91.0 518.6,130.0 520.6,148.0 524.2,200.0 531.0,300.0 535.2,375.0 538.0,400.0 541.2,440.0 546.5,500.0 549.3,540.0 552.3,540.0 549.5,500.0 544.5,440.0 541.6,400.0 539.2,375.0 534.9,300.0 528.6,200.0 524.8,148.0 523.6,130.0 522.3,91.0 522.0,65.0 521.0,50.0"/><polygon points="557.6,581.0 557.7,582.0 559.1,583.0 558.8,584.0 559.3,585.0 559.3,586.0 560.4,587.0 559.8,588.0 560.4,589.0 560.8,590.0 560.3,591.0 560.6,592.0 561.6,593.0 561.8,594.0 561.9,595.0 562.6,596.0 562.3,597.0 562.6,598.0 562.5,599.0 562.8,600.0 563.4,601.0 563.9,602.0 564.3,603.0 565.2,604.0 565.6,605.0 564.4,606.0 565.2,607.0 565.7,608.0 566.5,609.0 565.4,610.0 565.9,611.0 567.1,612.0 566.2,613.0 566.9,614.0 566.5,615.0 567.1,616.0 567.8,617.0 567.6,618.0 568.2,619.0 568.3,620.0 569.8,621.0 569.8,622.0 569.9,623.0 571.1,624.0 570.4,625.0 571.9,626.0 571.2,627.0 572.4,628.0 572.0,629.0 572.6,630.0 573.9,631.0 573.6,632.0 575.2,633.0 575.2,634.0 576.0,635.0 575.6,636.0 577.0,637.0 576.5,638.0 577.7,639.0 577.9,640.0 579.0,641.0 579.3,642.0 580.4,643.0 580.0,644.0 580.2,645.0 581.2,646.0 582.4,647.0 581.8,648.0 583.0,649.0 583.8,650.0 584.7,651.0 586.4,652.0 585.8,652.5 591.6,652.5 591.7,652.0 590.4,651.0 589.3,650.0 588.2,649.0 586.6,648.0 586.9,647.0 586.5,646.0 585.7,645.0 585.0,644.0 585.2,643.0 584.0,642.0 582.8,641.0 583.7,640.0 582.6,639.0 581.9,638.0 581.5,637.0 580.5,636.0 580.6,635.0 579.4,634.0 580.0,633.0 579.0,632.0 578.5,631.0 578.2,630.0 578.2,629.0 577.0,628.0 577.4,627.0 576.4,626.0 575.9,625.0 575.6,624.0 574.5,623.0 574.7,622.0 574.6,621.0 574.3,620.0 574.2,619.0 572.5,618.0 573.3,617.0 571.9,616.0 572.8,615.0 572.2,614.0 572.2,613.0 571.4,612.0 571.2,611.0 570.9,610.0 570.7,609.0 570.4,608.0 570.5,607.0 570.5,606.0 570.2,605.0 570.2,604.0 569.4,603.0 569.6,602.0 569.5,601.0 569.1,600.0 568.2,599.0 567.5,598.0 567.0,597.0 566.8,596.0 566.4,595.0 566.6,594.0 566.2,593.0 566.0,592.0 565.6,591.0 565.2,590.0 565.4,589.0 565.0,588.0 564.9,587.0 565.0,586.0 564.7,585.0 564.1,584.0 563.0,583.0 563.8,582.0 562.7,581.0"/><polygon points="586.0,644.9 588.0,644.9 588.0,645.7 590.0,645.7 590.0,649.9 592.0,649.9 592.0,649.5 594.0,649.5 594.0,648.7 596.0,648.7 596.0,651.7 598.0,651.7 598.0,651.7 600.0,651.7 600.0,654.1 602.0,654.1 602.0,651.9 604.0,651.9 604.0,651.1 606.0,651.1 606.0,655.8 608.0,655.8 608.0,654.7 610.0,654.7 610.0,654.5 612.0,654.5 612.0,650.7 614.0,650.7 614.0,653.5 616.0,653.5 616.0,657.1 618.0,657.1 618.0,657.7 620.0,657.7 620.0,657.4 622.0,657.4 622.0,653.2 624.0,653.2 624.0,655.6 626.0,655.6 626.0,656.3 628.0,656.3 628.0,654.8 630.0,654.8 630.0,651.8 632.0,651.8 632.0,646.4 633.0,646.4 633.0,655.9 632.0,655.9 632.0,659.5 630.0,659.5 630.0,665.5 628.0,665.5 628.0,663.6 626.0,663.6 626.0,668.1 624.0,668.1 624.0,663.9 622.0,663.9 622.0,668.8 620.0,668.8 620.0,665.1 618.0,665.1 618.0,664.4 616.0,664.4 616.0,664.0 614.0,664.0 614.0,662.0 612.0,662.0 612.0,662.6 610.0,662.6 610.0,666.7 608.0,666.7 608.0,668.4 606.0,668.4 606.0,664.9 604.0,664.9 604.0,662.8 602.0,662.8 602.0,662.3 600.0,662.3 600.0,662.4 598.0,662.4 598.0,660.1 596.0,660.1 596.0,660.6 594.0,660.6 594.0,660.5 592.0,660.5 592.0,662.5 590.0,662.5 590.0,655.8 588.0,655.8 588.0,655.2 586.0,655.2"/><polygon points="670.2,50.0 672.0,70.0 674.8,108.0 680.5,200.0 688.0,300.0 695.2,400.0 702.5,500.0 704.8,530.0 707.6,530.0 706.0,500.0 698.5,400.0 691.5,300.0 684.4,200.0 679.8,108.0 678.0,70.0 677.0,50.0"/><polygon points="713.8,580.0 713.5,581.0 714.0,582.0 714.8,583.0 714.2,584.0 714.8,585.0 715.3,586.0 714.8,587.0 715.5,588.0 715.7,589.0 717.2,590.0 716.8,591.0 716.6,592.0 717.4,593.0 718.0,594.0 717.5,595.0 718.1,596.0 718.0,597.0 718.9,598.0 718.9,599.0 718.5,600.0 718.5,601.0 718.8,602.0 719.2,603.0 719.6,604.0 719.3,605.0 719.7,606.0 721.0,607.0 720.2,608.0 721.0,609.0 720.8,610.0 721.4,611.0 721.0,612.0 720.6,613.0 721.1,614.0 722.4,615.0 722.6,616.0 723.1,617.0 722.9,618.0 723.2,619.0 723.3,620.0 723.8,621.0 725.4,622.0 725.4,623.0 724.8,624.0 725.4,625.0 725.9,626.0 726.2,627.0 726.8,628.0 727.9,629.0 728.7,630.0 728.4,631.0 728.2,632.0 728.8,633.0 730.4,634.0 729.7,635.0 729.9,636.0 731.8,637.0 731.0,638.0 731.5,639.0 732.3,640.0 732.9,641.0 732.5,642.0 733.8,643.0 733.6,644.0 734.3,645.0 734.7,646.0 734.8,647.0 735.4,648.0 736.4,649.0 737.0,650.0 736.2,651.0 736.9,652.0 737.6,653.0 737.9,654.0 739.2,655.0 740.0,656.0 739.9,657.0 741.1,657.0 745.0,657.0 745.4,657.0 745.1,656.0 744.3,655.0 743.9,654.0 743.1,653.0 741.8,652.0 741.5,651.0 741.2,650.0 740.8,649.0 740.7,648.0 740.3,647.0 739.9,646.0 739.5,645.0 739.5,644.0 738.9,643.0 738.5,642.0 737.3,641.0 736.9,640.0 737.2,639.0 736.4,638.0 736.2,637.0 735.5,636.0 735.7,635.0 734.9,634.0 734.1,633.0 733.9,632.0 733.9,631.0 732.4,630.0 732.5,629.0 732.6,628.0 732.1,627.0 731.8,626.0 731.5,625.0 729.8,624.0 730.0,623.0 730.4,622.0 729.8,621.0 729.4,620.0 728.1,619.0 728.3,618.0 728.1,617.0 726.7,616.0 726.5,615.0 726.1,614.0 726.5,613.0 726.2,612.0 726.6,611.0 726.4,610.0 726.2,609.0 725.7,608.0 725.5,607.0 725.9,606.0 725.4,605.0 724.7,604.0 724.8,603.0 724.4,602.0 724.6,601.0 723.8,600.0 724.3,599.0 723.4,598.0 723.5,597.0 723.4,596.0 723.0,595.0 723.0,594.0 722.6,593.0 722.3,592.0 721.6,591.0 721.9,590.0 721.2,589.0 720.8,588.0 720.8,587.0 720.6,586.0 719.4,585.0 719.7,584.0 719.5,583.0 719.4,582.0 719.1,581.0 719.1,580.0"/><polygon points="741.0,649.8 743.0,649.8 743.0,650.6 745.0,650.6 745.0,652.1 747.0,652.1 747.0,648.5 749.0,648.5 749.0,650.9 751.0,650.9 751.0,656.3 753.0,656.3 753.0,655.1 755.0,655.1 755.0,653.1 757.0,653.1 757.0,655.2 759.0,655.2 759.0,652.0 761.0,652.0 761.0,652.8 763.0,652.8 763.0,652.5 765.0,652.5 765.0,650.7 767.0,650.7 767.0,655.4 769.0,655.4 769.0,656.3 771.0,656.3 771.0,655.4 773.0,655.4 773.0,656.7 775.0,656.7 775.0,656.1 777.0,656.1 777.0,651.8 779.0,651.8 779.0,653.4 781.0,653.4 781.0,656.2 783.0,656.2 783.0,656.2 785.0,656.2 785.0,655.5 787.0,655.5 787.0,653.6 789.0,653.6 789.0,656.6 791.0,656.6 791.0,653.2 793.0,653.2 793.0,655.5 795.0,655.5 795.0,657.6 797.0,657.6 797.0,652.2 799.0,652.2 799.0,656.8 801.0,656.8 801.0,659.6 803.0,659.6 803.0,655.2 805.0,655.2 805.0,659.3 807.0,659.3 807.0,660.3 809.0,660.3 809.0,657.8 811.0,657.8 811.0,658.1 813.0,658.1 813.0,660.6 815.0,660.6 815.0,660.1 817.0,660.1 817.0,657.2 819.0,657.2 819.0,654.3 821.0,654.3 821.0,657.4 823.0,657.4 823.0,657.8 825.0,657.8 825.0,659.5 827.0,659.5 827.0,660.4 829.0,660.4 829.0,660.4 831.0,660.4 831.0,662.0 833.0,662.0 833.0,657.7 835.0,657.7 835.0,657.2 837.0,657.2 837.0,661.0 839.0,661.0 839.0,661.6 841.0,661.6 841.0,663.3 843.0,663.3 843.0,662.0 845.0,662.0 845.0,660.7 847.0,660.7 847.0,658.4 849.0,658.4 849.0,660.1 851.0,660.1 851.0,657.9 853.0,657.9 853.0,658.3 855.0,658.3 855.0,657.1 857.0,657.1 857.0,658.4 859.0,658.4 859.0,663.2 861.0,663.2 861.0,663.7 863.0,663.7 863.0,661.4 865.0,661.4 865.0,660.4 867.0,660.4 867.0,658.4 869.0,658.4 869.0,660.6 871.0,660.6 871.0,662.1 873.0,662.1 873.0,659.2 875.0,659.2 875.0,664.0 877.0,664.0 877.0,663.5 879.0,663.5 879.0,660.6 881.0,660.6 881.0,663.7 883.0,663.7 883.0,662.5 885.0,662.5 885.0,663.0 887.0,663.0 887.0,663.5 889.0,663.5 889.0,663.5 891.0,663.5 891.0,662.2 893.0,662.2 893.0,661.2 895.0,661.2 895.0,659.9 897.0,659.9 897.0,661.6 899.0,661.6 899.0,665.3 901.0,665.3 901.0,661.8 903.0,661.8 903.0,665.2 905.0,665.2 905.0,665.3 907.0,665.3 907.0,664.6 909.0,664.6 909.0,666.1 911.0,666.1 911.0,664.5 913.0,664.5 913.0,665.7 915.0,665.7 915.0,666.4 917.0,666.4 917.0,661.9 919.0,661.9 919.0,663.9 921.0,663.9 921.0,661.9 923.0,661.9 923.0,666.0 925.0,666.0 925.0,664.2 927.0,664.2 927.0,665.7 929.0,665.7 929.0,666.6 931.0,666.6 931.0,661.7 933.0,661.7 933.0,665.0 935.0,665.0 935.0,666.4 937.0,666.4 937.0,667.8 939.0,667.8 939.0,665.0 941.0,665.0 941.0,664.1 943.0,664.1 943.0,667.3 945.0,667.3 945.0,668.5 947.0,668.5 947.0,663.1 949.0,663.1 949.0,663.5 951.0,663.5 951.0,667.6 953.0,667.6 953.0,663.6 955.0,663.6 955.0,667.0 957.0,667.0 957.0,665.9 959.0,665.9 959.0,667.8 961.0,667.8 961.0,669.8 963.0,669.8 963.0,670.1 965.0,670.1 965.0,664.4 967.0,664.4 967.0,669.0 969.0,669.0 969.0,663.4 971.0,663.4 971.0,667.1 973.0,667.1 973.0,664.6 975.0,664.6 975.0,665.2 977.0,665.2 977.0,669.0 979.0,669.0 979.0,669.3 981.0,669.3 981.0,667.7 983.0,667.7 983.0,666.8 985.0,666.8 985.0,665.1 987.0,665.1 987.0,665.7 989.0,665.7 989.0,669.3 991.0,669.3 991.0,669.2 993.0,669.2 993.0,665.2 995.0,665.2 995.0,669.0 997.0,669.0 997.0,668.4 999.0,668.4 999.0,665.4 1001.0,665.4 1001.0,670.4 1003.0,670.4 1003.0,666.6 1005.0,666.6 1005.0,668.6 1007.0,668.6 1007.0,667.4 1009.0,667.4 1009.0,668.4 1011.0,668.4 1011.0,668.3 1013.0,668.3 1013.0,669.1 1015.0,669.1 1015.0,668.4 1017.0,668.4 1017.0,667.4 1019.0,667.4 1019.0,670.2 1021.0,670.2 1021.0,669.9 1023.0,669.9 1023.0,667.7 1025.0,667.7 1025.0,665.2 1027.0,665.2 1027.0,668.3 1029.0,668.3 1029.0,667.5 1031.0,667.5 1031.0,666.3 1033.0,666.3 1033.0,667.2 1035.0,667.2 1035.0,669.3 1037.0,669.3 1037.0,663.0 1039.0,663.0 1039.0,664.3 1041.0,664.3 1041.0,666.9 1043.0,666.9 1043.0,667.9 1043.0,667.9 1043.0,677.9 1043.0,677.9 1043.0,676.7 1041.0,676.7 1041.0,678.1 1039.0,678.1 1039.0,675.4 1037.0,675.4 1037.0,676.2 1035.0,676.2 1035.0,676.5 1033.0,676.5 1033.0,677.0 1031.0,677.0 1031.0,678.3 1029.0,678.3 1029.0,681.1 1027.0,681.1 1027.0,675.1 1025.0,675.1 1025.0,681.6 1023.0,681.6 1023.0,679.5 1021.0,679.5 1021.0,677.8 1019.0,677.8 1019.0,680.9 1017.0,680.9 1017.0,678.3 1015.0,678.3 1015.0,681.7 1013.0,681.7 1013.0,676.4 1011.0,676.4 1011.0,676.8 1009.0,676.8 1009.0,677.4 1007.0,677.4 1007.0,677.4 1005.0,677.4 1005.0,681.0 1003.0,681.0 1003.0,677.3 1001.0,677.3 1001.0,676.5 999.0,676.5 999.0,679.9 997.0,679.9 997.0,681.3 995.0,681.3 995.0,681.8 993.0,681.8 993.0,675.8 991.0,675.8 991.0,680.4 989.0,680.4 989.0,676.8 987.0,676.8 987.0,678.3 985.0,678.3 985.0,680.9 983.0,680.9 983.0,678.8 981.0,678.8 981.0,681.3 979.0,681.3 979.0,675.7 977.0,675.7 977.0,681.9 975.0,681.9 975.0,677.1 973.0,677.1 973.0,681.1 971.0,681.1 971.0,682.4 969.0,682.4 969.0,682.1 967.0,682.1 967.0,677.2 965.0,677.2 965.0,681.1 963.0,681.1 963.0,680.0 961.0,680.0 961.0,680.2 959.0,680.2 959.0,675.3 957.0,675.3 957.0,679.4 955.0,679.4 955.0,675.9 953.0,675.9 953.0,675.4 951.0,675.4 951.0,680.5 949.0,680.5 949.0,680.4 947.0,680.4 947.0,680.4 945.0,680.4 945.0,679.5 943.0,679.5 943.0,677.6 941.0,677.6 941.0,678.0 939.0,678.0 939.0,676.0 937.0,676.0 937.0,675.7 935.0,675.7 935.0,675.3 933.0,675.3 933.0,675.5 931.0,675.5 931.0,678.6 929.0,678.6 929.0,675.2 927.0,675.2 927.0,675.5 925.0,675.5 925.0,674.4 923.0,674.4 923.0,674.6 921.0,674.6 921.0,673.7 919.0,673.7 919.0,675.1 917.0,675.1 917.0,678.0 915.0,678.0 915.0,674.7 913.0,674.7 913.0,673.8 911.0,673.8 911.0,673.3 909.0,673.3 909.0,680.2 907.0,680.2 907.0,674.9 905.0,674.9 905.0,674.7 903.0,674.7 903.0,673.0 901.0,673.0 901.0,678.2 899.0,678.2 899.0,676.6 897.0,676.6 897.0,672.6 895.0,672.6 895.0,672.0 893.0,672.0 893.0,676.4 891.0,676.4 891.0,672.0 889.0,672.0 889.0,677.2 887.0,677.2 887.0,672.6 885.0,672.6 885.0,675.2 883.0,675.2 883.0,672.6 881.0,672.6 881.0,671.1 879.0,671.1 879.0,670.9 877.0,670.9 877.0,672.8 875.0,672.8 875.0,671.6 873.0,671.6 873.0,672.4 871.0,672.4 871.0,672.1 869.0,672.1 869.0,669.2 867.0,669.2 867.0,669.3 865.0,669.3 865.0,675.5 863.0,675.5 863.0,672.9 861.0,672.9 861.0,674.5 859.0,674.5 859.0,671.8 857.0,671.8 857.0,675.7 855.0,675.7 855.0,667.9 853.0,667.9 853.0,668.7 851.0,668.7 851.0,674.5 849.0,674.5 849.0,672.7 847.0,672.7 847.0,669.4 845.0,669.4 845.0,676.2 843.0,676.2 843.0,671.7 841.0,671.7 841.0,669.1 839.0,669.1 839.0,669.2 837.0,669.2 837.0,668.9 835.0,668.9 835.0,672.6 833.0,672.6 833.0,668.9 831.0,668.9 831.0,669.2 829.0,669.2 829.0,667.2 827.0,667.2 827.0,672.6 825.0,672.6 825.0,668.6 823.0,668.6 823.0,667.0 821.0,667.0 821.0,671.2 819.0,671.2 819.0,665.5 817.0,665.5 817.0,668.1 815.0,668.1 815.0,667.2 813.0,667.2 813.0,672.2 811.0,672.2 811.0,667.4 809.0,667.4 809.0,671.5 807.0,671.5 807.0,666.1 805.0,666.1 805.0,670.3 803.0,670.3 803.0,666.3 801.0,666.3 801.0,666.4 799.0,666.4 799.0,664.7 797.0,664.7 797.0,665.7 795.0,665.7 795.0,663.9 793.0,663.9 793.0,664.6 791.0,664.6 791.0,671.2 789.0,671.2 789.0,668.3 787.0,668.3 787.0,669.2 785.0,669.2 785.0,668.5 783.0,668.5 783.0,664.4 781.0,664.4 781.0,669.5 779.0,669.5 779.0,662.7 777.0,662.7 777.0,664.1 775.0,664.1 775.0,669.3 773.0,669.3 773.0,665.9 771.0,665.9 771.0,664.3 769.0,664.3 769.0,667.4 767.0,667.4 767.0,663.2 765.0,663.2 765.0,665.4 763.0,665.4 763.0,665.1 761.0,665.1 761.0,668.3 759.0,668.3 759.0,662.9 757.0,662.9 757.0,663.0 755.0,663.0 755.0,664.5 753.0,664.5 753.0,668.4 751.0,668.4 751.0,663.3 749.0,663.3 749.0,662.1 747.0,662.1 747.0,659.8 745.0,659.8 745.0,662.8 743.0,662.8 743.0,664.5 741.0,664.5"/></g>
</g>
</svg>
</body></html>
